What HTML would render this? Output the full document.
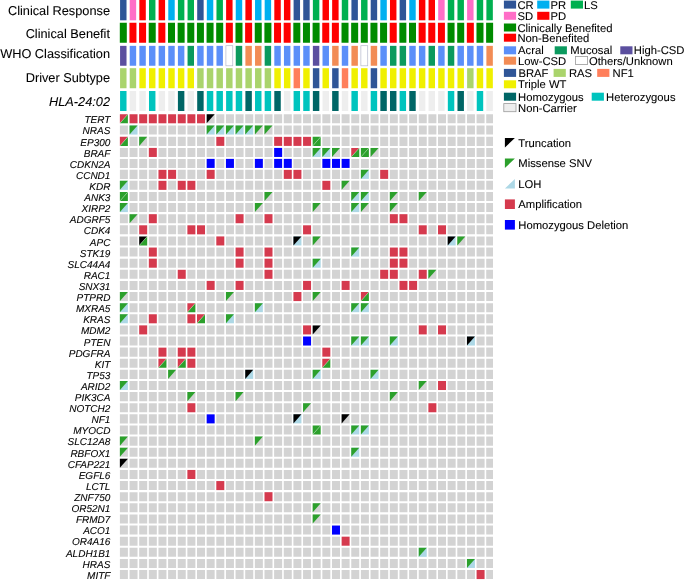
<!DOCTYPE html>
<html><head><meta charset="utf-8"><title>Oncoprint</title>
<style>
html,body{margin:0;padding:0;background:#fff;}
body{width:685px;height:580px;overflow:hidden;position:relative;font-family:"Liberation Sans",sans-serif;}
</style></head><body>
<svg width="685" height="580" viewBox="0 0 685 580" style="position:absolute;left:0;top:0;display:block;will-change:transform;text-rendering:geometricPrecision" font-family="'Liberation Sans', sans-serif" fill="#000">
<style>text{stroke:#000;stroke-width:0.08px;stroke-linejoin:round}</style>
<rect x="0" y="0" width="685" height="580" fill="#ffffff"/>
<rect x="120.07" y="0" width="6.45" height="20.3" fill="#2F5597"/>
<rect x="129.71" y="0" width="6.45" height="20.3" fill="#FF6EC7"/>
<rect x="139.35" y="0" width="6.45" height="20.3" fill="#FF0000"/>
<rect x="148.99" y="0" width="6.45" height="20.3" fill="#00B050"/>
<rect x="158.63" y="0" width="6.45" height="20.3" fill="#FF0000"/>
<rect x="168.27" y="0" width="6.45" height="20.3" fill="#00B0F0"/>
<rect x="177.91" y="0" width="6.45" height="20.3" fill="#00B050"/>
<rect x="187.55" y="0" width="6.45" height="20.3" fill="#00B050"/>
<rect x="197.19" y="0" width="6.45" height="20.3" fill="#2F5597"/>
<rect x="206.83" y="0" width="6.45" height="20.3" fill="#00B0F0"/>
<rect x="216.47" y="0" width="6.45" height="20.3" fill="#00B050"/>
<rect x="226.11" y="0" width="6.45" height="20.3" fill="#FF0000"/>
<rect x="235.75" y="0" width="6.45" height="20.3" fill="#00B0F0"/>
<rect x="245.39" y="0" width="6.45" height="20.3" fill="#FF0000"/>
<rect x="255.03" y="0" width="6.45" height="20.3" fill="#00B0F0"/>
<rect x="264.67" y="0" width="6.45" height="20.3" fill="#00B0F0"/>
<rect x="274.31" y="0" width="6.45" height="20.3" fill="#FF0000"/>
<rect x="283.95" y="0" width="6.45" height="20.3" fill="#FF0000"/>
<rect x="293.59" y="0" width="6.45" height="20.3" fill="#2F5597"/>
<rect x="303.23" y="0" width="6.45" height="20.3" fill="#2F5597"/>
<rect x="312.87" y="0" width="6.45" height="20.3" fill="#00B050"/>
<rect x="322.51" y="0" width="6.45" height="20.3" fill="#FF0000"/>
<rect x="332.15" y="0" width="6.45" height="20.3" fill="#FF0000"/>
<rect x="341.79" y="0" width="6.45" height="20.3" fill="#00B050"/>
<rect x="351.43" y="0" width="6.45" height="20.3" fill="#2F5597"/>
<rect x="361.07" y="0" width="6.45" height="20.3" fill="#00B050"/>
<rect x="370.71" y="0" width="6.45" height="20.3" fill="#2F5597"/>
<rect x="380.35" y="0" width="6.45" height="20.3" fill="#00B0F0"/>
<rect x="389.99" y="0" width="6.45" height="20.3" fill="#FF0000"/>
<rect x="399.63" y="0" width="6.45" height="20.3" fill="#2F5597"/>
<rect x="409.27" y="0" width="6.45" height="20.3" fill="#00B0F0"/>
<rect x="418.91" y="0" width="6.45" height="20.3" fill="#FF0000"/>
<rect x="428.55" y="0" width="6.45" height="20.3" fill="#FF0000"/>
<rect x="438.19" y="0" width="6.45" height="20.3" fill="#FF6EC7"/>
<rect x="447.83" y="0" width="6.45" height="20.3" fill="#00B050"/>
<rect x="457.47" y="0" width="6.45" height="20.3" fill="#00B050"/>
<rect x="467.11" y="0" width="6.45" height="20.3" fill="#FF6EC7"/>
<rect x="476.75" y="0" width="6.45" height="20.3" fill="#00B050"/>
<rect x="486.39" y="0" width="6.45" height="20.3" fill="#00B050"/>
<rect x="119.8" y="22.75" width="7" height="20" fill="#008B00"/>
<rect x="129.44" y="22.75" width="7" height="20" fill="#FF0000"/>
<rect x="139.08" y="22.75" width="7" height="20" fill="#FF0000"/>
<rect x="148.72" y="22.75" width="7" height="20" fill="#008B00"/>
<rect x="158.36" y="22.75" width="7" height="20" fill="#FF0000"/>
<rect x="168" y="22.75" width="7" height="20" fill="#008B00"/>
<rect x="177.64" y="22.75" width="7" height="20" fill="#008B00"/>
<rect x="187.28" y="22.75" width="7" height="20" fill="#008B00"/>
<rect x="196.92" y="22.75" width="7" height="20" fill="#008B00"/>
<rect x="206.56" y="22.75" width="7" height="20" fill="#008B00"/>
<rect x="216.2" y="22.75" width="7" height="20" fill="#008B00"/>
<rect x="225.84" y="22.75" width="7" height="20" fill="#FF0000"/>
<rect x="235.48" y="22.75" width="7" height="20" fill="#008B00"/>
<rect x="245.12" y="22.75" width="7" height="20" fill="#FF0000"/>
<rect x="254.76" y="22.75" width="7" height="20" fill="#008B00"/>
<rect x="264.4" y="22.75" width="7" height="20" fill="#008B00"/>
<rect x="274.04" y="22.75" width="7" height="20" fill="#FF0000"/>
<rect x="283.68" y="22.75" width="7" height="20" fill="#FF0000"/>
<rect x="293.32" y="22.75" width="7" height="20" fill="#008B00"/>
<rect x="302.96" y="22.75" width="7" height="20" fill="#008B00"/>
<rect x="312.6" y="22.75" width="7" height="20" fill="#008B00"/>
<rect x="322.24" y="22.75" width="7" height="20" fill="#FF0000"/>
<rect x="331.88" y="22.75" width="7" height="20" fill="#FF0000"/>
<rect x="341.52" y="22.75" width="7" height="20" fill="#008B00"/>
<rect x="351.16" y="22.75" width="7" height="20" fill="#008B00"/>
<rect x="360.8" y="22.75" width="7" height="20" fill="#008B00"/>
<rect x="370.44" y="22.75" width="7" height="20" fill="#008B00"/>
<rect x="380.08" y="22.75" width="7" height="20" fill="#008B00"/>
<rect x="389.72" y="22.75" width="7" height="20" fill="#FF0000"/>
<rect x="399.36" y="22.75" width="7" height="20" fill="#008B00"/>
<rect x="409" y="22.75" width="7" height="20" fill="#008B00"/>
<rect x="418.64" y="22.75" width="7" height="20" fill="#FF0000"/>
<rect x="428.28" y="22.75" width="7" height="20" fill="#FF0000"/>
<rect x="437.92" y="22.75" width="7" height="20" fill="#FF0000"/>
<rect x="447.56" y="22.75" width="7" height="20" fill="#008B00"/>
<rect x="457.2" y="22.75" width="7" height="20" fill="#008B00"/>
<rect x="466.84" y="22.75" width="7" height="20" fill="#FF0000"/>
<rect x="476.48" y="22.75" width="7" height="20" fill="#008B00"/>
<rect x="486.12" y="22.75" width="7" height="20" fill="#008B00"/>
<rect x="120.07" y="45.85" width="6.45" height="19.9" fill="#5B4F9F"/>
<rect x="129.71" y="45.85" width="6.45" height="19.9" fill="#5B8FF9"/>
<rect x="139.35" y="45.85" width="6.45" height="19.9" fill="#5B8FF9"/>
<rect x="148.99" y="45.85" width="6.45" height="19.9" fill="#5B8FF9"/>
<rect x="158.63" y="45.85" width="6.45" height="19.9" fill="#5B8FF9"/>
<rect x="168.27" y="45.85" width="6.45" height="19.9" fill="#5B8FF9"/>
<rect x="177.91" y="45.85" width="6.45" height="19.9" fill="#5B8FF9"/>
<rect x="187.55" y="45.85" width="6.45" height="19.9" fill="#0B9A5E"/>
<rect x="197.19" y="45.85" width="6.45" height="19.9" fill="#5B8FF9"/>
<rect x="206.83" y="45.85" width="6.45" height="19.9" fill="#5B8FF9"/>
<rect x="216.47" y="45.85" width="6.45" height="19.9" fill="#5B8FF9"/>
<rect x="225.91" y="45.7" width="6.85" height="20.1" fill="#fff" stroke="#b4b8cc" stroke-width="0.7"/>
<rect x="235.75" y="45.85" width="6.45" height="19.9" fill="#0B9A5E"/>
<rect x="245.39" y="45.85" width="6.45" height="19.9" fill="#F28C55"/>
<rect x="255.03" y="45.85" width="6.45" height="19.9" fill="#F28C55"/>
<rect x="264.67" y="45.85" width="6.45" height="19.9" fill="#0B9A5E"/>
<rect x="274.31" y="45.85" width="6.45" height="19.9" fill="#5B8FF9"/>
<rect x="283.95" y="45.85" width="6.45" height="19.9" fill="#5B8FF9"/>
<rect x="293.59" y="45.85" width="6.45" height="19.9" fill="#5B8FF9"/>
<rect x="303.23" y="45.85" width="6.45" height="19.9" fill="#5B8FF9"/>
<rect x="312.87" y="45.85" width="6.45" height="19.9" fill="#5B4F9F"/>
<rect x="322.51" y="45.85" width="6.45" height="19.9" fill="#5B8FF9"/>
<rect x="332.15" y="45.85" width="6.45" height="19.9" fill="#F28C55"/>
<rect x="341.79" y="45.85" width="6.45" height="19.9" fill="#5B8FF9"/>
<rect x="351.43" y="45.85" width="6.45" height="19.9" fill="#F28C55"/>
<rect x="360.87" y="45.7" width="6.85" height="20.1" fill="#fff" stroke="#b4b8cc" stroke-width="0.7"/>
<rect x="370.71" y="45.85" width="6.45" height="19.9" fill="#F28C55"/>
<rect x="380.35" y="45.85" width="6.45" height="19.9" fill="#5B8FF9"/>
<rect x="389.99" y="45.85" width="6.45" height="19.9" fill="#0B9A5E"/>
<rect x="399.63" y="45.85" width="6.45" height="19.9" fill="#0B9A5E"/>
<rect x="409.27" y="45.85" width="6.45" height="19.9" fill="#5B8FF9"/>
<rect x="418.91" y="45.85" width="6.45" height="19.9" fill="#5B8FF9"/>
<rect x="428.55" y="45.85" width="6.45" height="19.9" fill="#0B9A5E"/>
<rect x="438.19" y="45.85" width="6.45" height="19.9" fill="#5B8FF9"/>
<rect x="447.83" y="45.85" width="6.45" height="19.9" fill="#0B9A5E"/>
<rect x="457.47" y="45.85" width="6.45" height="19.9" fill="#5B8FF9"/>
<rect x="467.11" y="45.85" width="6.45" height="19.9" fill="#5B8FF9"/>
<rect x="476.75" y="45.85" width="6.45" height="19.9" fill="#5B8FF9"/>
<rect x="486.39" y="45.85" width="6.45" height="19.9" fill="#F28C55"/>
<rect x="120.07" y="68.2" width="6.45" height="20.05" fill="#AAD46C"/>
<rect x="129.71" y="68.2" width="6.45" height="20.05" fill="#AAD46C"/>
<rect x="139.35" y="68.2" width="6.45" height="20.05" fill="#F0F000"/>
<rect x="148.99" y="68.2" width="6.45" height="20.05" fill="#F0F000"/>
<rect x="158.63" y="68.2" width="6.45" height="20.05" fill="#F0F000"/>
<rect x="168.27" y="68.2" width="6.45" height="20.05" fill="#F0F000"/>
<rect x="177.91" y="68.2" width="6.45" height="20.05" fill="#F0F000"/>
<rect x="187.55" y="68.2" width="6.45" height="20.05" fill="#F0F000"/>
<rect x="197.19" y="68.2" width="6.45" height="20.05" fill="#AAD46C"/>
<rect x="206.83" y="68.2" width="6.45" height="20.05" fill="#AAD46C"/>
<rect x="216.47" y="68.2" width="6.45" height="20.05" fill="#AAD46C"/>
<rect x="226.11" y="68.2" width="6.45" height="20.05" fill="#AAD46C"/>
<rect x="235.75" y="68.2" width="6.45" height="20.05" fill="#AAD46C"/>
<rect x="245.39" y="68.2" width="6.45" height="20.05" fill="#AAD46C"/>
<rect x="255.03" y="68.2" width="6.45" height="20.05" fill="#AAD46C"/>
<rect x="264.67" y="68.2" width="6.45" height="20.05" fill="#AAD46C"/>
<rect x="274.31" y="68.2" width="6.45" height="20.05" fill="#F0F000"/>
<rect x="283.95" y="68.2" width="6.45" height="20.05" fill="#F0F000"/>
<rect x="293.59" y="68.2" width="6.45" height="20.05" fill="#FF7F5B"/>
<rect x="303.23" y="68.2" width="6.45" height="20.05" fill="#F0F000"/>
<rect x="312.87" y="68.2" width="6.45" height="20.05" fill="#2F5597"/>
<rect x="322.51" y="68.2" width="6.45" height="20.05" fill="#F0F000"/>
<rect x="332.15" y="68.2" width="6.45" height="20.05" fill="#2F5597"/>
<rect x="341.79" y="68.2" width="6.45" height="20.05" fill="#FF7F5B"/>
<rect x="351.43" y="68.2" width="6.45" height="20.05" fill="#F0F000"/>
<rect x="361.07" y="68.2" width="6.45" height="20.05" fill="#F0F000"/>
<rect x="370.71" y="68.2" width="6.45" height="20.05" fill="#2F5597"/>
<rect x="380.35" y="68.2" width="6.45" height="20.05" fill="#F0F000"/>
<rect x="389.99" y="68.2" width="6.45" height="20.05" fill="#F0F000"/>
<rect x="399.63" y="68.2" width="6.45" height="20.05" fill="#F0F000"/>
<rect x="409.27" y="68.2" width="6.45" height="20.05" fill="#F0F000"/>
<rect x="418.91" y="68.2" width="6.45" height="20.05" fill="#F0F000"/>
<rect x="428.55" y="68.2" width="6.45" height="20.05" fill="#F0F000"/>
<rect x="438.19" y="68.2" width="6.45" height="20.05" fill="#F0F000"/>
<rect x="447.83" y="68.2" width="6.45" height="20.05" fill="#F0F000"/>
<rect x="457.47" y="68.2" width="6.45" height="20.05" fill="#F0F000"/>
<rect x="467.11" y="68.2" width="6.45" height="20.05" fill="#AAD46C"/>
<rect x="476.75" y="68.2" width="6.45" height="20.05" fill="#F0F000"/>
<rect x="486.39" y="68.2" width="6.45" height="20.05" fill="#F0F000"/>
<rect x="120.07" y="91" width="6.45" height="20" fill="#00C4BE"/>
<rect x="129.71" y="91" width="6.45" height="20" fill="#EEEEEE"/>
<rect x="139.35" y="91" width="6.45" height="20" fill="#EEEEEE"/>
<rect x="148.99" y="91" width="6.45" height="20" fill="#00C4BE"/>
<rect x="158.63" y="91" width="6.45" height="20" fill="#EEEEEE"/>
<rect x="168.27" y="91" width="6.45" height="20" fill="#EEEEEE"/>
<rect x="177.91" y="91" width="6.45" height="20" fill="#006666"/>
<rect x="187.55" y="91" width="6.45" height="20" fill="#EEEEEE"/>
<rect x="197.19" y="91" width="6.45" height="20" fill="#006666"/>
<rect x="206.83" y="91" width="6.45" height="20" fill="#00C4BE"/>
<rect x="216.47" y="91" width="6.45" height="20" fill="#00C4BE"/>
<rect x="226.11" y="91" width="6.45" height="20" fill="#00C4BE"/>
<rect x="235.75" y="91" width="6.45" height="20" fill="#00C4BE"/>
<rect x="245.39" y="91" width="6.45" height="20" fill="#006666"/>
<rect x="255.03" y="91" width="6.45" height="20" fill="#00C4BE"/>
<rect x="264.67" y="91" width="6.45" height="20" fill="#00C4BE"/>
<rect x="274.31" y="91" width="6.45" height="20" fill="#006666"/>
<rect x="283.95" y="91" width="6.45" height="20" fill="#EEEEEE"/>
<rect x="293.59" y="91" width="6.45" height="20" fill="#00C4BE"/>
<rect x="303.23" y="91" width="6.45" height="20" fill="#00C4BE"/>
<rect x="312.87" y="91" width="6.45" height="20" fill="#006666"/>
<rect x="322.51" y="91" width="6.45" height="20" fill="#EEEEEE"/>
<rect x="332.15" y="91" width="6.45" height="20" fill="#006666"/>
<rect x="341.79" y="91" width="6.45" height="20" fill="#EEEEEE"/>
<rect x="351.43" y="91" width="6.45" height="20" fill="#00C4BE"/>
<rect x="361.07" y="91" width="6.45" height="20" fill="#EEEEEE"/>
<rect x="370.71" y="91" width="6.45" height="20" fill="#00C4BE"/>
<rect x="380.35" y="91" width="6.45" height="20" fill="#006666"/>
<rect x="389.99" y="91" width="6.45" height="20" fill="#006666"/>
<rect x="399.63" y="91" width="6.45" height="20" fill="#00C4BE"/>
<rect x="409.27" y="91" width="6.45" height="20" fill="#006666"/>
<rect x="418.91" y="91" width="6.45" height="20" fill="#EEEEEE"/>
<rect x="428.55" y="91" width="6.45" height="20" fill="#EEEEEE"/>
<rect x="438.19" y="91" width="6.45" height="20" fill="#EEEEEE"/>
<rect x="447.83" y="91" width="6.45" height="20" fill="#00C4BE"/>
<rect x="457.47" y="91" width="6.45" height="20" fill="#006666"/>
<rect x="467.11" y="91" width="6.45" height="20" fill="#EEEEEE"/>
<rect x="476.75" y="91" width="6.45" height="20" fill="#00C4BE"/>
<rect x="486.39" y="91" width="6.45" height="20" fill="#EEEEEE"/>
<rect x="119.9" y="114.25" width="8" height="9.05" fill="#f4f4f4"/>
<polygon points="119.9,114.25 127.9,114.25 119.9,123.3" fill="#D53A4E"/>
<polygon points="127.9,114.25 127.9,123.3 119.9,123.3" fill="#2CA02C"/>
<line x1="127.9" y1="114.25" x2="119.9" y2="123.3" stroke="#fff" stroke-opacity="0.55" stroke-width="0.5"/>
<rect x="129.54" y="114.25" width="8" height="9.05" fill="#D53A4E"/>
<rect x="139.18" y="114.25" width="8" height="9.05" fill="#D53A4E"/>
<rect x="148.82" y="114.25" width="8" height="9.05" fill="#D53A4E"/>
<rect x="158.46" y="114.25" width="8" height="9.05" fill="#D53A4E"/>
<rect x="168.1" y="114.25" width="8" height="9.05" fill="#D53A4E"/>
<rect x="177.74" y="114.25" width="8" height="9.05" fill="#D53A4E"/>
<rect x="187.38" y="114.25" width="8" height="9.05" fill="#D53A4E"/>
<rect x="197.02" y="114.25" width="8" height="9.05" fill="#D53A4E"/>
<rect x="206.66" y="114.25" width="8" height="9.05" fill="#D3D3D3"/>
<polygon points="206.66,114.25 214.66,114.25 206.66,123.3" fill="#000000"/>
<rect x="129.54" y="125.52" width="8" height="9.05" fill="#ADD8E6"/>
<polygon points="129.54,125.52 137.54,125.52 129.54,134.57" fill="#2CA02C"/>
<rect x="206.66" y="125.52" width="8" height="9.05" fill="#ADD8E6"/>
<polygon points="206.66,125.52 214.66,125.52 206.66,134.57" fill="#2CA02C"/>
<rect x="216.3" y="125.52" width="8" height="9.05" fill="#ADD8E6"/>
<polygon points="216.3,125.52 224.3,125.52 216.3,134.57" fill="#2CA02C"/>
<rect x="225.94" y="125.52" width="8" height="9.05" fill="#ADD8E6"/>
<polygon points="225.94,125.52 233.94,125.52 225.94,134.57" fill="#2CA02C"/>
<rect x="235.58" y="125.52" width="8" height="9.05" fill="#ADD8E6"/>
<polygon points="235.58,125.52 243.58,125.52 235.58,134.57" fill="#2CA02C"/>
<rect x="245.22" y="125.52" width="8" height="9.05" fill="#ADD8E6"/>
<polygon points="245.22,125.52 253.22,125.52 245.22,134.57" fill="#2CA02C"/>
<rect x="254.86" y="125.52" width="8" height="9.05" fill="#D3D3D3"/>
<polygon points="254.86,125.52 262.86,125.52 254.86,134.57" fill="#2CA02C"/>
<rect x="264.5" y="125.52" width="8" height="9.05" fill="#D3D3D3"/>
<polygon points="264.5,125.52 272.5,125.52 264.5,134.57" fill="#2CA02C"/>
<rect x="119.9" y="136.84" width="8" height="9.05" fill="#f4f4f4"/>
<polygon points="119.9,136.84 127.9,136.84 119.9,145.89" fill="#D53A4E"/>
<polygon points="127.9,136.84 127.9,145.89 119.9,145.89" fill="#2CA02C"/>
<line x1="127.9" y1="136.84" x2="119.9" y2="145.89" stroke="#fff" stroke-opacity="0.55" stroke-width="0.5"/>
<rect x="139.18" y="136.84" width="8" height="9.05" fill="#D3D3D3"/>
<polygon points="139.18,136.84 147.18,136.84 139.18,145.89" fill="#2CA02C"/>
<rect x="216.3" y="136.84" width="8" height="9.05" fill="#D53A4E"/>
<rect x="274.14" y="136.84" width="8" height="9.05" fill="#D53A4E"/>
<rect x="283.78" y="136.84" width="8" height="9.05" fill="#D53A4E"/>
<rect x="293.42" y="136.84" width="8" height="9.05" fill="#D53A4E"/>
<rect x="303.06" y="136.84" width="8" height="9.05" fill="#D53A4E"/>
<rect x="312.7" y="136.84" width="8" height="9.05" fill="#f4f4f4"/>
<polygon points="312.7,136.84 320.7,136.84 312.7,145.89" fill="#2CA02C"/>
<polygon points="320.7,136.84 320.7,145.89 312.7,145.89" fill="#2CA02C"/>
<line x1="320.7" y1="136.84" x2="312.7" y2="145.89" stroke="#fff" stroke-opacity="0.55" stroke-width="0.5"/>
<rect x="148.82" y="147.91" width="8" height="9.05" fill="#D53A4E"/>
<rect x="274.14" y="147.91" width="8" height="9.05" fill="#0000FF"/>
<rect x="312.7" y="147.91" width="8" height="9.05" fill="#ADD8E6"/>
<polygon points="312.7,147.91 320.7,147.91 312.7,156.96" fill="#2CA02C"/>
<rect x="322.34" y="147.91" width="8" height="9.05" fill="#ADD8E6"/>
<polygon points="322.34,147.91 330.34,147.91 322.34,156.96" fill="#2CA02C"/>
<rect x="331.98" y="147.91" width="8" height="9.05" fill="#D3D3D3"/>
<polygon points="331.98,147.91 339.98,147.91 331.98,156.96" fill="#2CA02C"/>
<rect x="351.26" y="147.91" width="8" height="9.05" fill="#f4f4f4"/>
<polygon points="351.26,147.91 359.26,147.91 351.26,156.96" fill="#D53A4E"/>
<polygon points="359.26,147.91 359.26,156.96 351.26,156.96" fill="#2CA02C"/>
<line x1="359.26" y1="147.91" x2="351.26" y2="156.96" stroke="#fff" stroke-opacity="0.55" stroke-width="0.5"/>
<rect x="360.9" y="147.91" width="8" height="9.05" fill="#f4f4f4"/>
<polygon points="360.9,147.91 368.9,147.91 360.9,156.96" fill="#2CA02C"/>
<polygon points="368.9,147.91 368.9,156.96 360.9,156.96" fill="#2CA02C"/>
<line x1="368.9" y1="147.91" x2="360.9" y2="156.96" stroke="#fff" stroke-opacity="0.55" stroke-width="0.5"/>
<rect x="370.54" y="147.91" width="8" height="9.05" fill="#D3D3D3"/>
<polygon points="370.54,147.91 378.54,147.91 370.54,156.96" fill="#2CA02C"/>
<rect x="206.66" y="158.88" width="8" height="9.05" fill="#0000FF"/>
<rect x="225.94" y="158.88" width="8" height="9.05" fill="#0000FF"/>
<rect x="254.86" y="158.88" width="8" height="9.05" fill="#0000FF"/>
<rect x="274.14" y="158.88" width="8" height="9.05" fill="#0000FF"/>
<rect x="283.78" y="158.88" width="8" height="9.05" fill="#0000FF"/>
<rect x="322.34" y="158.88" width="8" height="9.05" fill="#0000FF"/>
<rect x="331.98" y="158.88" width="8" height="9.05" fill="#0000FF"/>
<rect x="341.62" y="158.88" width="8" height="9.05" fill="#0000FF"/>
<rect x="158.46" y="169.85" width="8" height="9.05" fill="#D53A4E"/>
<rect x="168.1" y="169.85" width="8" height="9.05" fill="#D53A4E"/>
<rect x="206.66" y="169.85" width="8" height="9.05" fill="#D53A4E"/>
<rect x="283.78" y="169.85" width="8" height="9.05" fill="#D53A4E"/>
<rect x="293.42" y="169.85" width="8" height="9.05" fill="#D53A4E"/>
<rect x="360.9" y="169.85" width="8" height="9.05" fill="#ADD8E6"/>
<polygon points="360.9,169.85 368.9,169.85 360.9,178.9" fill="#2CA02C"/>
<rect x="380.18" y="169.85" width="8" height="9.05" fill="#D53A4E"/>
<rect x="119.9" y="180.82" width="8" height="9.05" fill="#ADD8E6"/>
<polygon points="119.9,180.82 127.9,180.82 119.9,189.87" fill="#2CA02C"/>
<rect x="158.46" y="180.82" width="8" height="9.05" fill="#D53A4E"/>
<rect x="177.74" y="180.82" width="8" height="9.05" fill="#D53A4E"/>
<rect x="187.38" y="180.82" width="8" height="9.05" fill="#D53A4E"/>
<rect x="322.34" y="180.82" width="8" height="9.05" fill="#D53A4E"/>
<rect x="341.62" y="180.82" width="8" height="9.05" fill="#D3D3D3"/>
<polygon points="341.62,180.82 349.62,180.82 341.62,189.87" fill="#2CA02C"/>
<rect x="119.9" y="191.94" width="8" height="9.05" fill="#f4f4f4"/>
<polygon points="119.9,191.94 127.9,191.94 119.9,200.99" fill="#2CA02C"/>
<polygon points="127.9,191.94 127.9,200.99 119.9,200.99" fill="#2CA02C"/>
<line x1="127.9" y1="191.94" x2="119.9" y2="200.99" stroke="#fff" stroke-opacity="0.55" stroke-width="0.5"/>
<rect x="264.5" y="191.94" width="8" height="9.05" fill="#D3D3D3"/>
<polygon points="264.5,191.94 272.5,191.94 264.5,200.99" fill="#2CA02C"/>
<rect x="351.26" y="191.94" width="8" height="9.05" fill="#ADD8E6"/>
<polygon points="351.26,191.94 359.26,191.94 351.26,200.99" fill="#2CA02C"/>
<rect x="360.9" y="191.94" width="8" height="9.05" fill="#ADD8E6"/>
<polygon points="360.9,191.94 368.9,191.94 360.9,200.99" fill="#2CA02C"/>
<rect x="389.82" y="191.94" width="8" height="9.05" fill="#D3D3D3"/>
<polygon points="389.82,191.94 397.82,191.94 389.82,200.99" fill="#2CA02C"/>
<rect x="418.74" y="191.94" width="8" height="9.05" fill="#D3D3D3"/>
<polygon points="418.74,191.94 426.74,191.94 418.74,200.99" fill="#2CA02C"/>
<rect x="119.9" y="203.06" width="8" height="9.05" fill="#ADD8E6"/>
<polygon points="119.9,203.06 127.9,203.06 119.9,212.11" fill="#2CA02C"/>
<rect x="254.86" y="203.06" width="8" height="9.05" fill="#D3D3D3"/>
<polygon points="254.86,203.06 262.86,203.06 254.86,212.11" fill="#2CA02C"/>
<rect x="312.7" y="203.06" width="8" height="9.05" fill="#D3D3D3"/>
<polygon points="312.7,203.06 320.7,203.06 312.7,212.11" fill="#2CA02C"/>
<rect x="351.26" y="203.06" width="8" height="9.05" fill="#ADD8E6"/>
<polygon points="351.26,203.06 359.26,203.06 351.26,212.11" fill="#2CA02C"/>
<rect x="360.9" y="203.06" width="8" height="9.05" fill="#D3D3D3"/>
<polygon points="360.9,203.06 368.9,203.06 360.9,212.11" fill="#2CA02C"/>
<rect x="389.82" y="203.06" width="8" height="9.05" fill="#D3D3D3"/>
<polygon points="389.82,203.06 397.82,203.06 389.82,212.11" fill="#2CA02C"/>
<rect x="129.54" y="214.18" width="8" height="9.05" fill="#D3D3D3"/>
<polygon points="129.54,214.18 137.54,214.18 129.54,223.23" fill="#2CA02C"/>
<rect x="148.82" y="214.18" width="8" height="9.05" fill="#D53A4E"/>
<rect x="235.58" y="214.18" width="8" height="9.05" fill="#D53A4E"/>
<rect x="264.5" y="214.18" width="8" height="9.05" fill="#D53A4E"/>
<rect x="389.82" y="214.18" width="8" height="9.05" fill="#D53A4E"/>
<rect x="399.46" y="214.18" width="8" height="9.05" fill="#D53A4E"/>
<rect x="139.18" y="225.3" width="8" height="9.05" fill="#D53A4E"/>
<rect x="187.38" y="225.3" width="8" height="9.05" fill="#D53A4E"/>
<rect x="197.02" y="225.3" width="8" height="9.05" fill="#D53A4E"/>
<rect x="303.06" y="225.3" width="8" height="9.05" fill="#D53A4E"/>
<rect x="418.74" y="225.3" width="8" height="9.05" fill="#D53A4E"/>
<rect x="438.02" y="225.3" width="8" height="9.05" fill="#D53A4E"/>
<rect x="139.18" y="236.42" width="8" height="9.05" fill="#f4f4f4"/>
<polygon points="139.18,236.42 147.18,236.42 139.18,245.47" fill="#000000"/>
<polygon points="147.18,236.42 147.18,245.47 139.18,245.47" fill="#2CA02C"/>
<line x1="147.18" y1="236.42" x2="139.18" y2="245.47" stroke="#fff" stroke-opacity="0.55" stroke-width="0.5"/>
<rect x="216.3" y="236.42" width="8" height="9.05" fill="#D53A4E"/>
<rect x="293.42" y="236.42" width="8" height="9.05" fill="#ADD8E6"/>
<polygon points="293.42,236.42 301.42,236.42 293.42,245.47" fill="#000000"/>
<rect x="312.7" y="236.42" width="8" height="9.05" fill="#D3D3D3"/>
<polygon points="312.7,236.42 320.7,236.42 312.7,245.47" fill="#2CA02C"/>
<rect x="447.66" y="236.42" width="8" height="9.05" fill="#ADD8E6"/>
<polygon points="447.66,236.42 455.66,236.42 447.66,245.47" fill="#000000"/>
<rect x="457.3" y="236.42" width="8" height="9.05" fill="#D3D3D3"/>
<polygon points="457.3,236.42 465.3,236.42 457.3,245.47" fill="#2CA02C"/>
<rect x="148.82" y="247.54" width="8" height="9.05" fill="#D53A4E"/>
<rect x="235.58" y="247.54" width="8" height="9.05" fill="#D53A4E"/>
<rect x="264.5" y="247.54" width="8" height="9.05" fill="#D53A4E"/>
<rect x="351.26" y="247.54" width="8" height="9.05" fill="#ADD8E6"/>
<polygon points="351.26,247.54 359.26,247.54 351.26,256.59" fill="#2CA02C"/>
<rect x="389.82" y="247.54" width="8" height="9.05" fill="#D53A4E"/>
<rect x="399.46" y="247.54" width="8" height="9.05" fill="#D53A4E"/>
<rect x="148.82" y="258.66" width="8" height="9.05" fill="#D53A4E"/>
<rect x="235.58" y="258.66" width="8" height="9.05" fill="#D53A4E"/>
<rect x="264.5" y="258.66" width="8" height="9.05" fill="#D53A4E"/>
<rect x="312.7" y="258.66" width="8" height="9.05" fill="#ADD8E6"/>
<polygon points="312.7,258.66 320.7,258.66 312.7,267.71" fill="#2CA02C"/>
<rect x="389.82" y="258.66" width="8" height="9.05" fill="#D53A4E"/>
<rect x="399.46" y="258.66" width="8" height="9.05" fill="#D53A4E"/>
<rect x="177.74" y="269.78" width="8" height="9.05" fill="#D53A4E"/>
<rect x="264.5" y="269.78" width="8" height="9.05" fill="#D53A4E"/>
<rect x="380.18" y="269.78" width="8" height="9.05" fill="#D53A4E"/>
<rect x="389.82" y="269.78" width="8" height="9.05" fill="#D53A4E"/>
<rect x="418.74" y="269.78" width="8" height="9.05" fill="#D53A4E"/>
<rect x="428.38" y="269.78" width="8" height="9.05" fill="#D3D3D3"/>
<polygon points="428.38,269.78 436.38,269.78 428.38,278.83" fill="#2CA02C"/>
<rect x="206.66" y="280.9" width="8" height="9.05" fill="#D53A4E"/>
<rect x="235.58" y="280.9" width="8" height="9.05" fill="#D53A4E"/>
<rect x="303.06" y="280.9" width="8" height="9.05" fill="#D53A4E"/>
<rect x="341.62" y="280.9" width="8" height="9.05" fill="#D53A4E"/>
<rect x="399.46" y="280.9" width="8" height="9.05" fill="#D53A4E"/>
<rect x="409.1" y="280.9" width="8" height="9.05" fill="#D53A4E"/>
<rect x="119.9" y="292.02" width="8" height="9.05" fill="#D3D3D3"/>
<polygon points="119.9,292.02 127.9,292.02 119.9,301.07" fill="#2CA02C"/>
<rect x="225.94" y="292.02" width="8" height="9.05" fill="#D3D3D3"/>
<polygon points="225.94,292.02 233.94,292.02 225.94,301.07" fill="#2CA02C"/>
<rect x="293.42" y="292.02" width="8" height="9.05" fill="#D53A4E"/>
<rect x="312.7" y="292.02" width="8" height="9.05" fill="#D3D3D3"/>
<polygon points="312.7,292.02 320.7,292.02 312.7,301.07" fill="#2CA02C"/>
<rect x="360.9" y="292.02" width="8" height="9.05" fill="#f4f4f4"/>
<polygon points="360.9,292.02 368.9,292.02 360.9,301.07" fill="#D53A4E"/>
<polygon points="368.9,292.02 368.9,301.07 360.9,301.07" fill="#2CA02C"/>
<line x1="368.9" y1="292.02" x2="360.9" y2="301.07" stroke="#fff" stroke-opacity="0.55" stroke-width="0.5"/>
<rect x="119.9" y="303.14" width="8" height="9.05" fill="#ADD8E6"/>
<polygon points="119.9,303.14 127.9,303.14 119.9,312.19" fill="#2CA02C"/>
<rect x="187.38" y="303.14" width="8" height="9.05" fill="#f4f4f4"/>
<polygon points="187.38,303.14 195.38,303.14 187.38,312.19" fill="#D53A4E"/>
<polygon points="195.38,303.14 195.38,312.19 187.38,312.19" fill="#2CA02C"/>
<line x1="195.38" y1="303.14" x2="187.38" y2="312.19" stroke="#fff" stroke-opacity="0.55" stroke-width="0.5"/>
<rect x="254.86" y="303.14" width="8" height="9.05" fill="#ADD8E6"/>
<polygon points="254.86,303.14 262.86,303.14 254.86,312.19" fill="#2CA02C"/>
<rect x="351.26" y="303.14" width="8" height="9.05" fill="#ADD8E6"/>
<polygon points="351.26,303.14 359.26,303.14 351.26,312.19" fill="#2CA02C"/>
<rect x="360.9" y="303.14" width="8" height="9.05" fill="#ADD8E6"/>
<polygon points="360.9,303.14 368.9,303.14 360.9,312.19" fill="#2CA02C"/>
<rect x="119.9" y="314.26" width="8" height="9.05" fill="#ADD8E6"/>
<polygon points="119.9,314.26 127.9,314.26 119.9,323.31" fill="#2CA02C"/>
<rect x="148.82" y="314.26" width="8" height="9.05" fill="#D53A4E"/>
<rect x="187.38" y="314.26" width="8" height="9.05" fill="#D53A4E"/>
<rect x="197.02" y="314.26" width="8" height="9.05" fill="#f4f4f4"/>
<polygon points="197.02,314.26 205.02,314.26 197.02,323.31" fill="#D53A4E"/>
<polygon points="205.02,314.26 205.02,323.31 197.02,323.31" fill="#2CA02C"/>
<line x1="205.02" y1="314.26" x2="197.02" y2="323.31" stroke="#fff" stroke-opacity="0.55" stroke-width="0.5"/>
<rect x="225.94" y="314.26" width="8" height="9.05" fill="#ADD8E6"/>
<polygon points="225.94,314.26 233.94,314.26 225.94,323.31" fill="#2CA02C"/>
<rect x="139.18" y="325.38" width="8" height="9.05" fill="#D53A4E"/>
<rect x="303.06" y="325.38" width="8" height="9.05" fill="#D53A4E"/>
<rect x="312.7" y="325.38" width="8" height="9.05" fill="#D3D3D3"/>
<polygon points="312.7,325.38 320.7,325.38 312.7,334.43" fill="#000000"/>
<rect x="418.74" y="325.38" width="8" height="9.05" fill="#D53A4E"/>
<rect x="438.02" y="325.38" width="8" height="9.05" fill="#D53A4E"/>
<rect x="303.06" y="336.5" width="8" height="9.05" fill="#0000FF"/>
<rect x="351.26" y="336.5" width="8" height="9.05" fill="#ADD8E6"/>
<polygon points="351.26,336.5 359.26,336.5 351.26,345.55" fill="#2CA02C"/>
<rect x="360.9" y="336.5" width="8" height="9.05" fill="#ADD8E6"/>
<polygon points="360.9,336.5 368.9,336.5 360.9,345.55" fill="#2CA02C"/>
<rect x="389.82" y="336.5" width="8" height="9.05" fill="#ADD8E6"/>
<polygon points="389.82,336.5 397.82,336.5 389.82,345.55" fill="#2CA02C"/>
<rect x="466.94" y="336.5" width="8" height="9.05" fill="#ADD8E6"/>
<polygon points="466.94,336.5 474.94,336.5 466.94,345.55" fill="#000000"/>
<rect x="158.46" y="347.62" width="8" height="9.05" fill="#D53A4E"/>
<rect x="177.74" y="347.62" width="8" height="9.05" fill="#D53A4E"/>
<rect x="187.38" y="347.62" width="8" height="9.05" fill="#D53A4E"/>
<rect x="322.34" y="347.62" width="8" height="9.05" fill="#D53A4E"/>
<rect x="158.46" y="358.74" width="8" height="9.05" fill="#f4f4f4"/>
<polygon points="158.46,358.74 166.46,358.74 158.46,367.79" fill="#D53A4E"/>
<polygon points="166.46,358.74 166.46,367.79 158.46,367.79" fill="#2CA02C"/>
<line x1="166.46" y1="358.74" x2="158.46" y2="367.79" stroke="#fff" stroke-opacity="0.55" stroke-width="0.5"/>
<rect x="177.74" y="358.74" width="8" height="9.05" fill="#f4f4f4"/>
<polygon points="177.74,358.74 185.74,358.74 177.74,367.79" fill="#D53A4E"/>
<polygon points="185.74,358.74 185.74,367.79 177.74,367.79" fill="#2CA02C"/>
<line x1="185.74" y1="358.74" x2="177.74" y2="367.79" stroke="#fff" stroke-opacity="0.55" stroke-width="0.5"/>
<rect x="187.38" y="358.74" width="8" height="9.05" fill="#D53A4E"/>
<rect x="322.34" y="358.74" width="8" height="9.05" fill="#f4f4f4"/>
<polygon points="322.34,358.74 330.34,358.74 322.34,367.79" fill="#D53A4E"/>
<polygon points="330.34,358.74 330.34,367.79 322.34,367.79" fill="#2CA02C"/>
<line x1="330.34" y1="358.74" x2="322.34" y2="367.79" stroke="#fff" stroke-opacity="0.55" stroke-width="0.5"/>
<rect x="168.1" y="369.86" width="8" height="9.05" fill="#D3D3D3"/>
<polygon points="168.1,369.86 176.1,369.86 168.1,378.91" fill="#2CA02C"/>
<rect x="245.22" y="369.86" width="8" height="9.05" fill="#ADD8E6"/>
<polygon points="245.22,369.86 253.22,369.86 245.22,378.91" fill="#000000"/>
<rect x="312.7" y="369.86" width="8" height="9.05" fill="#ADD8E6"/>
<polygon points="312.7,369.86 320.7,369.86 312.7,378.91" fill="#2CA02C"/>
<rect x="370.54" y="369.86" width="8" height="9.05" fill="#ADD8E6"/>
<polygon points="370.54,369.86 378.54,369.86 370.54,378.91" fill="#2CA02C"/>
<rect x="119.9" y="380.98" width="8" height="9.05" fill="#ADD8E6"/>
<polygon points="119.9,380.98 127.9,380.98 119.9,390.03" fill="#2CA02C"/>
<rect x="418.74" y="380.98" width="8" height="9.05" fill="#D3D3D3"/>
<polygon points="418.74,380.98 426.74,380.98 418.74,390.03" fill="#2CA02C"/>
<rect x="438.02" y="380.98" width="8" height="9.05" fill="#D53A4E"/>
<rect x="187.38" y="392.1" width="8" height="9.05" fill="#D3D3D3"/>
<polygon points="187.38,392.1 195.38,392.1 187.38,401.15" fill="#2CA02C"/>
<rect x="235.58" y="392.1" width="8" height="9.05" fill="#D3D3D3"/>
<polygon points="235.58,392.1 243.58,392.1 235.58,401.15" fill="#2CA02C"/>
<rect x="389.82" y="392.1" width="8" height="9.05" fill="#D3D3D3"/>
<polygon points="389.82,392.1 397.82,392.1 389.82,401.15" fill="#2CA02C"/>
<rect x="187.38" y="403.22" width="8" height="9.05" fill="#D53A4E"/>
<rect x="303.06" y="403.22" width="8" height="9.05" fill="#D3D3D3"/>
<polygon points="303.06,403.22 311.06,403.22 303.06,412.27" fill="#2CA02C"/>
<rect x="428.38" y="403.22" width="8" height="9.05" fill="#D53A4E"/>
<rect x="206.66" y="414.34" width="8" height="9.05" fill="#0000FF"/>
<rect x="293.42" y="414.34" width="8" height="9.05" fill="#ADD8E6"/>
<polygon points="293.42,414.34 301.42,414.34 293.42,423.39" fill="#000000"/>
<rect x="341.62" y="414.34" width="8" height="9.05" fill="#D3D3D3"/>
<polygon points="341.62,414.34 349.62,414.34 341.62,423.39" fill="#000000"/>
<rect x="312.7" y="425.46" width="8" height="9.05" fill="#f4f4f4"/>
<polygon points="312.7,425.46 320.7,425.46 312.7,434.51" fill="#2CA02C"/>
<polygon points="320.7,425.46 320.7,434.51 312.7,434.51" fill="#2CA02C"/>
<line x1="320.7" y1="425.46" x2="312.7" y2="434.51" stroke="#fff" stroke-opacity="0.55" stroke-width="0.5"/>
<rect x="351.26" y="425.46" width="8" height="9.05" fill="#ADD8E6"/>
<polygon points="351.26,425.46 359.26,425.46 351.26,434.51" fill="#2CA02C"/>
<rect x="360.9" y="425.46" width="8" height="9.05" fill="#ADD8E6"/>
<polygon points="360.9,425.46 368.9,425.46 360.9,434.51" fill="#2CA02C"/>
<rect x="119.9" y="436.58" width="8" height="9.05" fill="#D3D3D3"/>
<polygon points="119.9,436.58 127.9,436.58 119.9,445.63" fill="#2CA02C"/>
<rect x="254.86" y="436.58" width="8" height="9.05" fill="#D3D3D3"/>
<polygon points="254.86,436.58 262.86,436.58 254.86,445.63" fill="#2CA02C"/>
<rect x="119.9" y="447.7" width="8" height="9.05" fill="#D3D3D3"/>
<polygon points="119.9,447.7 127.9,447.7 119.9,456.75" fill="#2CA02C"/>
<rect x="351.26" y="447.7" width="8" height="9.05" fill="#ADD8E6"/>
<polygon points="351.26,447.7 359.26,447.7 351.26,456.75" fill="#2CA02C"/>
<rect x="119.9" y="458.82" width="8" height="9.05" fill="#D3D3D3"/>
<polygon points="119.9,458.82 127.9,458.82 119.9,467.87" fill="#000000"/>
<rect x="187.38" y="469.94" width="8" height="9.05" fill="#D53A4E"/>
<rect x="216.3" y="481.06" width="8" height="9.05" fill="#D53A4E"/>
<rect x="264.5" y="492.18" width="8" height="9.05" fill="#D53A4E"/>
<rect x="312.7" y="503.3" width="8" height="9.05" fill="#D3D3D3"/>
<polygon points="312.7,503.3 320.7,503.3 312.7,512.35" fill="#2CA02C"/>
<rect x="312.7" y="514.42" width="8" height="9.05" fill="#D3D3D3"/>
<polygon points="312.7,514.42 320.7,514.42 312.7,523.47" fill="#2CA02C"/>
<rect x="331.98" y="525.54" width="8" height="9.05" fill="#0000FF"/>
<rect x="341.62" y="536.66" width="8" height="9.05" fill="#D53A4E"/>
<rect x="418.74" y="547.78" width="8" height="9.05" fill="#ADD8E6"/>
<polygon points="418.74,547.78 426.74,547.78 418.74,556.83" fill="#2CA02C"/>
<rect x="466.94" y="558.9" width="8" height="9.05" fill="#ADD8E6"/>
<polygon points="466.94,558.9 474.94,558.9 466.94,567.95" fill="#2CA02C"/>
<rect x="476.58" y="570.02" width="8" height="9.05" fill="#D53A4E"/>
<path d="M216.3 114.25h8v9.05h-8zM225.94 114.25h8v9.05h-8zM235.58 114.25h8v9.05h-8zM245.22 114.25h8v9.05h-8zM254.86 114.25h8v9.05h-8zM264.5 114.25h8v9.05h-8zM274.14 114.25h8v9.05h-8zM283.78 114.25h8v9.05h-8zM293.42 114.25h8v9.05h-8zM303.06 114.25h8v9.05h-8zM312.7 114.25h8v9.05h-8zM322.34 114.25h8v9.05h-8zM331.98 114.25h8v9.05h-8zM341.62 114.25h8v9.05h-8zM351.26 114.25h8v9.05h-8zM360.9 114.25h8v9.05h-8zM370.54 114.25h8v9.05h-8zM380.18 114.25h8v9.05h-8zM389.82 114.25h8v9.05h-8zM399.46 114.25h8v9.05h-8zM409.1 114.25h8v9.05h-8zM418.74 114.25h8v9.05h-8zM428.38 114.25h8v9.05h-8zM438.02 114.25h8v9.05h-8zM447.66 114.25h8v9.05h-8zM457.3 114.25h8v9.05h-8zM466.94 114.25h8v9.05h-8zM476.58 114.25h8v9.05h-8zM486.22 114.25h6.78v9.05h-6.78zM119.9 125.52h8v9.05h-8zM139.18 125.52h8v9.05h-8zM148.82 125.52h8v9.05h-8zM158.46 125.52h8v9.05h-8zM168.1 125.52h8v9.05h-8zM177.74 125.52h8v9.05h-8zM187.38 125.52h8v9.05h-8zM197.02 125.52h8v9.05h-8zM274.14 125.52h8v9.05h-8zM283.78 125.52h8v9.05h-8zM293.42 125.52h8v9.05h-8zM303.06 125.52h8v9.05h-8zM312.7 125.52h8v9.05h-8zM322.34 125.52h8v9.05h-8zM331.98 125.52h8v9.05h-8zM341.62 125.52h8v9.05h-8zM351.26 125.52h8v9.05h-8zM360.9 125.52h8v9.05h-8zM370.54 125.52h8v9.05h-8zM380.18 125.52h8v9.05h-8zM389.82 125.52h8v9.05h-8zM399.46 125.52h8v9.05h-8zM409.1 125.52h8v9.05h-8zM418.74 125.52h8v9.05h-8zM428.38 125.52h8v9.05h-8zM438.02 125.52h8v9.05h-8zM447.66 125.52h8v9.05h-8zM457.3 125.52h8v9.05h-8zM466.94 125.52h8v9.05h-8zM476.58 125.52h8v9.05h-8zM486.22 125.52h6.78v9.05h-6.78zM129.54 136.84h8v9.05h-8zM148.82 136.84h8v9.05h-8zM158.46 136.84h8v9.05h-8zM168.1 136.84h8v9.05h-8zM177.74 136.84h8v9.05h-8zM187.38 136.84h8v9.05h-8zM197.02 136.84h8v9.05h-8zM206.66 136.84h8v9.05h-8zM225.94 136.84h8v9.05h-8zM235.58 136.84h8v9.05h-8zM245.22 136.84h8v9.05h-8zM254.86 136.84h8v9.05h-8zM264.5 136.84h8v9.05h-8zM322.34 136.84h8v9.05h-8zM331.98 136.84h8v9.05h-8zM341.62 136.84h8v9.05h-8zM351.26 136.84h8v9.05h-8zM360.9 136.84h8v9.05h-8zM370.54 136.84h8v9.05h-8zM380.18 136.84h8v9.05h-8zM389.82 136.84h8v9.05h-8zM399.46 136.84h8v9.05h-8zM409.1 136.84h8v9.05h-8zM418.74 136.84h8v9.05h-8zM428.38 136.84h8v9.05h-8zM438.02 136.84h8v9.05h-8zM447.66 136.84h8v9.05h-8zM457.3 136.84h8v9.05h-8zM466.94 136.84h8v9.05h-8zM476.58 136.84h8v9.05h-8zM486.22 136.84h6.78v9.05h-6.78zM119.9 147.91h8v9.05h-8zM129.54 147.91h8v9.05h-8zM139.18 147.91h8v9.05h-8zM158.46 147.91h8v9.05h-8zM168.1 147.91h8v9.05h-8zM177.74 147.91h8v9.05h-8zM187.38 147.91h8v9.05h-8zM197.02 147.91h8v9.05h-8zM206.66 147.91h8v9.05h-8zM216.3 147.91h8v9.05h-8zM225.94 147.91h8v9.05h-8zM235.58 147.91h8v9.05h-8zM245.22 147.91h8v9.05h-8zM254.86 147.91h8v9.05h-8zM264.5 147.91h8v9.05h-8zM283.78 147.91h8v9.05h-8zM293.42 147.91h8v9.05h-8zM303.06 147.91h8v9.05h-8zM341.62 147.91h8v9.05h-8zM380.18 147.91h8v9.05h-8zM389.82 147.91h8v9.05h-8zM399.46 147.91h8v9.05h-8zM409.1 147.91h8v9.05h-8zM418.74 147.91h8v9.05h-8zM428.38 147.91h8v9.05h-8zM438.02 147.91h8v9.05h-8zM447.66 147.91h8v9.05h-8zM457.3 147.91h8v9.05h-8zM466.94 147.91h8v9.05h-8zM476.58 147.91h8v9.05h-8zM486.22 147.91h6.78v9.05h-6.78zM119.9 158.88h8v9.05h-8zM129.54 158.88h8v9.05h-8zM139.18 158.88h8v9.05h-8zM148.82 158.88h8v9.05h-8zM158.46 158.88h8v9.05h-8zM168.1 158.88h8v9.05h-8zM177.74 158.88h8v9.05h-8zM187.38 158.88h8v9.05h-8zM197.02 158.88h8v9.05h-8zM216.3 158.88h8v9.05h-8zM235.58 158.88h8v9.05h-8zM245.22 158.88h8v9.05h-8zM264.5 158.88h8v9.05h-8zM293.42 158.88h8v9.05h-8zM303.06 158.88h8v9.05h-8zM312.7 158.88h8v9.05h-8zM351.26 158.88h8v9.05h-8zM360.9 158.88h8v9.05h-8zM370.54 158.88h8v9.05h-8zM380.18 158.88h8v9.05h-8zM389.82 158.88h8v9.05h-8zM399.46 158.88h8v9.05h-8zM409.1 158.88h8v9.05h-8zM418.74 158.88h8v9.05h-8zM428.38 158.88h8v9.05h-8zM438.02 158.88h8v9.05h-8zM447.66 158.88h8v9.05h-8zM457.3 158.88h8v9.05h-8zM466.94 158.88h8v9.05h-8zM476.58 158.88h8v9.05h-8zM486.22 158.88h6.78v9.05h-6.78zM119.9 169.85h8v9.05h-8zM129.54 169.85h8v9.05h-8zM139.18 169.85h8v9.05h-8zM148.82 169.85h8v9.05h-8zM177.74 169.85h8v9.05h-8zM187.38 169.85h8v9.05h-8zM197.02 169.85h8v9.05h-8zM216.3 169.85h8v9.05h-8zM225.94 169.85h8v9.05h-8zM235.58 169.85h8v9.05h-8zM245.22 169.85h8v9.05h-8zM254.86 169.85h8v9.05h-8zM264.5 169.85h8v9.05h-8zM274.14 169.85h8v9.05h-8zM303.06 169.85h8v9.05h-8zM312.7 169.85h8v9.05h-8zM322.34 169.85h8v9.05h-8zM331.98 169.85h8v9.05h-8zM341.62 169.85h8v9.05h-8zM351.26 169.85h8v9.05h-8zM370.54 169.85h8v9.05h-8zM389.82 169.85h8v9.05h-8zM399.46 169.85h8v9.05h-8zM409.1 169.85h8v9.05h-8zM418.74 169.85h8v9.05h-8zM428.38 169.85h8v9.05h-8zM438.02 169.85h8v9.05h-8zM447.66 169.85h8v9.05h-8zM457.3 169.85h8v9.05h-8zM466.94 169.85h8v9.05h-8zM476.58 169.85h8v9.05h-8zM486.22 169.85h6.78v9.05h-6.78zM129.54 180.82h8v9.05h-8zM139.18 180.82h8v9.05h-8zM148.82 180.82h8v9.05h-8zM168.1 180.82h8v9.05h-8zM197.02 180.82h8v9.05h-8zM206.66 180.82h8v9.05h-8zM216.3 180.82h8v9.05h-8zM225.94 180.82h8v9.05h-8zM235.58 180.82h8v9.05h-8zM245.22 180.82h8v9.05h-8zM254.86 180.82h8v9.05h-8zM264.5 180.82h8v9.05h-8zM274.14 180.82h8v9.05h-8zM283.78 180.82h8v9.05h-8zM293.42 180.82h8v9.05h-8zM303.06 180.82h8v9.05h-8zM312.7 180.82h8v9.05h-8zM331.98 180.82h8v9.05h-8zM351.26 180.82h8v9.05h-8zM360.9 180.82h8v9.05h-8zM370.54 180.82h8v9.05h-8zM380.18 180.82h8v9.05h-8zM389.82 180.82h8v9.05h-8zM399.46 180.82h8v9.05h-8zM409.1 180.82h8v9.05h-8zM418.74 180.82h8v9.05h-8zM428.38 180.82h8v9.05h-8zM438.02 180.82h8v9.05h-8zM447.66 180.82h8v9.05h-8zM457.3 180.82h8v9.05h-8zM466.94 180.82h8v9.05h-8zM476.58 180.82h8v9.05h-8zM486.22 180.82h6.78v9.05h-6.78zM129.54 191.94h8v9.05h-8zM139.18 191.94h8v9.05h-8zM148.82 191.94h8v9.05h-8zM158.46 191.94h8v9.05h-8zM168.1 191.94h8v9.05h-8zM177.74 191.94h8v9.05h-8zM187.38 191.94h8v9.05h-8zM197.02 191.94h8v9.05h-8zM206.66 191.94h8v9.05h-8zM216.3 191.94h8v9.05h-8zM225.94 191.94h8v9.05h-8zM235.58 191.94h8v9.05h-8zM245.22 191.94h8v9.05h-8zM254.86 191.94h8v9.05h-8zM274.14 191.94h8v9.05h-8zM283.78 191.94h8v9.05h-8zM293.42 191.94h8v9.05h-8zM303.06 191.94h8v9.05h-8zM312.7 191.94h8v9.05h-8zM322.34 191.94h8v9.05h-8zM331.98 191.94h8v9.05h-8zM341.62 191.94h8v9.05h-8zM370.54 191.94h8v9.05h-8zM380.18 191.94h8v9.05h-8zM399.46 191.94h8v9.05h-8zM409.1 191.94h8v9.05h-8zM428.38 191.94h8v9.05h-8zM438.02 191.94h8v9.05h-8zM447.66 191.94h8v9.05h-8zM457.3 191.94h8v9.05h-8zM466.94 191.94h8v9.05h-8zM476.58 191.94h8v9.05h-8zM486.22 191.94h6.78v9.05h-6.78zM129.54 203.06h8v9.05h-8zM139.18 203.06h8v9.05h-8zM148.82 203.06h8v9.05h-8zM158.46 203.06h8v9.05h-8zM168.1 203.06h8v9.05h-8zM177.74 203.06h8v9.05h-8zM187.38 203.06h8v9.05h-8zM197.02 203.06h8v9.05h-8zM206.66 203.06h8v9.05h-8zM216.3 203.06h8v9.05h-8zM225.94 203.06h8v9.05h-8zM235.58 203.06h8v9.05h-8zM245.22 203.06h8v9.05h-8zM264.5 203.06h8v9.05h-8zM274.14 203.06h8v9.05h-8zM283.78 203.06h8v9.05h-8zM293.42 203.06h8v9.05h-8zM303.06 203.06h8v9.05h-8zM322.34 203.06h8v9.05h-8zM331.98 203.06h8v9.05h-8zM341.62 203.06h8v9.05h-8zM370.54 203.06h8v9.05h-8zM380.18 203.06h8v9.05h-8zM399.46 203.06h8v9.05h-8zM409.1 203.06h8v9.05h-8zM418.74 203.06h8v9.05h-8zM428.38 203.06h8v9.05h-8zM438.02 203.06h8v9.05h-8zM447.66 203.06h8v9.05h-8zM457.3 203.06h8v9.05h-8zM466.94 203.06h8v9.05h-8zM476.58 203.06h8v9.05h-8zM486.22 203.06h6.78v9.05h-6.78zM119.9 214.18h8v9.05h-8zM139.18 214.18h8v9.05h-8zM158.46 214.18h8v9.05h-8zM168.1 214.18h8v9.05h-8zM177.74 214.18h8v9.05h-8zM187.38 214.18h8v9.05h-8zM197.02 214.18h8v9.05h-8zM206.66 214.18h8v9.05h-8zM216.3 214.18h8v9.05h-8zM225.94 214.18h8v9.05h-8zM245.22 214.18h8v9.05h-8zM254.86 214.18h8v9.05h-8zM274.14 214.18h8v9.05h-8zM283.78 214.18h8v9.05h-8zM293.42 214.18h8v9.05h-8zM303.06 214.18h8v9.05h-8zM312.7 214.18h8v9.05h-8zM322.34 214.18h8v9.05h-8zM331.98 214.18h8v9.05h-8zM341.62 214.18h8v9.05h-8zM351.26 214.18h8v9.05h-8zM360.9 214.18h8v9.05h-8zM370.54 214.18h8v9.05h-8zM380.18 214.18h8v9.05h-8zM409.1 214.18h8v9.05h-8zM418.74 214.18h8v9.05h-8zM428.38 214.18h8v9.05h-8zM438.02 214.18h8v9.05h-8zM447.66 214.18h8v9.05h-8zM457.3 214.18h8v9.05h-8zM466.94 214.18h8v9.05h-8zM476.58 214.18h8v9.05h-8zM486.22 214.18h6.78v9.05h-6.78zM119.9 225.3h8v9.05h-8zM129.54 225.3h8v9.05h-8zM148.82 225.3h8v9.05h-8zM158.46 225.3h8v9.05h-8zM168.1 225.3h8v9.05h-8zM177.74 225.3h8v9.05h-8zM206.66 225.3h8v9.05h-8zM216.3 225.3h8v9.05h-8zM225.94 225.3h8v9.05h-8zM235.58 225.3h8v9.05h-8zM245.22 225.3h8v9.05h-8zM254.86 225.3h8v9.05h-8zM264.5 225.3h8v9.05h-8zM274.14 225.3h8v9.05h-8zM283.78 225.3h8v9.05h-8zM293.42 225.3h8v9.05h-8zM312.7 225.3h8v9.05h-8zM322.34 225.3h8v9.05h-8zM331.98 225.3h8v9.05h-8zM341.62 225.3h8v9.05h-8zM351.26 225.3h8v9.05h-8zM360.9 225.3h8v9.05h-8zM370.54 225.3h8v9.05h-8zM380.18 225.3h8v9.05h-8zM389.82 225.3h8v9.05h-8zM399.46 225.3h8v9.05h-8zM409.1 225.3h8v9.05h-8zM428.38 225.3h8v9.05h-8zM447.66 225.3h8v9.05h-8zM457.3 225.3h8v9.05h-8zM466.94 225.3h8v9.05h-8zM476.58 225.3h8v9.05h-8zM486.22 225.3h6.78v9.05h-6.78zM119.9 236.42h8v9.05h-8zM129.54 236.42h8v9.05h-8zM148.82 236.42h8v9.05h-8zM158.46 236.42h8v9.05h-8zM168.1 236.42h8v9.05h-8zM177.74 236.42h8v9.05h-8zM187.38 236.42h8v9.05h-8zM197.02 236.42h8v9.05h-8zM206.66 236.42h8v9.05h-8zM225.94 236.42h8v9.05h-8zM235.58 236.42h8v9.05h-8zM245.22 236.42h8v9.05h-8zM254.86 236.42h8v9.05h-8zM264.5 236.42h8v9.05h-8zM274.14 236.42h8v9.05h-8zM283.78 236.42h8v9.05h-8zM303.06 236.42h8v9.05h-8zM322.34 236.42h8v9.05h-8zM331.98 236.42h8v9.05h-8zM341.62 236.42h8v9.05h-8zM351.26 236.42h8v9.05h-8zM360.9 236.42h8v9.05h-8zM370.54 236.42h8v9.05h-8zM380.18 236.42h8v9.05h-8zM389.82 236.42h8v9.05h-8zM399.46 236.42h8v9.05h-8zM409.1 236.42h8v9.05h-8zM418.74 236.42h8v9.05h-8zM428.38 236.42h8v9.05h-8zM438.02 236.42h8v9.05h-8zM466.94 236.42h8v9.05h-8zM476.58 236.42h8v9.05h-8zM486.22 236.42h6.78v9.05h-6.78zM119.9 247.54h8v9.05h-8zM129.54 247.54h8v9.05h-8zM139.18 247.54h8v9.05h-8zM158.46 247.54h8v9.05h-8zM168.1 247.54h8v9.05h-8zM177.74 247.54h8v9.05h-8zM187.38 247.54h8v9.05h-8zM197.02 247.54h8v9.05h-8zM206.66 247.54h8v9.05h-8zM216.3 247.54h8v9.05h-8zM225.94 247.54h8v9.05h-8zM245.22 247.54h8v9.05h-8zM254.86 247.54h8v9.05h-8zM274.14 247.54h8v9.05h-8zM283.78 247.54h8v9.05h-8zM293.42 247.54h8v9.05h-8zM303.06 247.54h8v9.05h-8zM312.7 247.54h8v9.05h-8zM322.34 247.54h8v9.05h-8zM331.98 247.54h8v9.05h-8zM341.62 247.54h8v9.05h-8zM360.9 247.54h8v9.05h-8zM370.54 247.54h8v9.05h-8zM380.18 247.54h8v9.05h-8zM409.1 247.54h8v9.05h-8zM418.74 247.54h8v9.05h-8zM428.38 247.54h8v9.05h-8zM438.02 247.54h8v9.05h-8zM447.66 247.54h8v9.05h-8zM457.3 247.54h8v9.05h-8zM466.94 247.54h8v9.05h-8zM476.58 247.54h8v9.05h-8zM486.22 247.54h6.78v9.05h-6.78zM119.9 258.66h8v9.05h-8zM129.54 258.66h8v9.05h-8zM139.18 258.66h8v9.05h-8zM158.46 258.66h8v9.05h-8zM168.1 258.66h8v9.05h-8zM177.74 258.66h8v9.05h-8zM187.38 258.66h8v9.05h-8zM197.02 258.66h8v9.05h-8zM206.66 258.66h8v9.05h-8zM216.3 258.66h8v9.05h-8zM225.94 258.66h8v9.05h-8zM245.22 258.66h8v9.05h-8zM254.86 258.66h8v9.05h-8zM274.14 258.66h8v9.05h-8zM283.78 258.66h8v9.05h-8zM293.42 258.66h8v9.05h-8zM303.06 258.66h8v9.05h-8zM322.34 258.66h8v9.05h-8zM331.98 258.66h8v9.05h-8zM341.62 258.66h8v9.05h-8zM351.26 258.66h8v9.05h-8zM360.9 258.66h8v9.05h-8zM370.54 258.66h8v9.05h-8zM380.18 258.66h8v9.05h-8zM409.1 258.66h8v9.05h-8zM418.74 258.66h8v9.05h-8zM428.38 258.66h8v9.05h-8zM438.02 258.66h8v9.05h-8zM447.66 258.66h8v9.05h-8zM457.3 258.66h8v9.05h-8zM466.94 258.66h8v9.05h-8zM476.58 258.66h8v9.05h-8zM486.22 258.66h6.78v9.05h-6.78zM119.9 269.78h8v9.05h-8zM129.54 269.78h8v9.05h-8zM139.18 269.78h8v9.05h-8zM148.82 269.78h8v9.05h-8zM158.46 269.78h8v9.05h-8zM168.1 269.78h8v9.05h-8zM187.38 269.78h8v9.05h-8zM197.02 269.78h8v9.05h-8zM206.66 269.78h8v9.05h-8zM216.3 269.78h8v9.05h-8zM225.94 269.78h8v9.05h-8zM235.58 269.78h8v9.05h-8zM245.22 269.78h8v9.05h-8zM254.86 269.78h8v9.05h-8zM274.14 269.78h8v9.05h-8zM283.78 269.78h8v9.05h-8zM293.42 269.78h8v9.05h-8zM303.06 269.78h8v9.05h-8zM312.7 269.78h8v9.05h-8zM322.34 269.78h8v9.05h-8zM331.98 269.78h8v9.05h-8zM341.62 269.78h8v9.05h-8zM351.26 269.78h8v9.05h-8zM360.9 269.78h8v9.05h-8zM370.54 269.78h8v9.05h-8zM399.46 269.78h8v9.05h-8zM409.1 269.78h8v9.05h-8zM438.02 269.78h8v9.05h-8zM447.66 269.78h8v9.05h-8zM457.3 269.78h8v9.05h-8zM466.94 269.78h8v9.05h-8zM476.58 269.78h8v9.05h-8zM486.22 269.78h6.78v9.05h-6.78zM119.9 280.9h8v9.05h-8zM129.54 280.9h8v9.05h-8zM139.18 280.9h8v9.05h-8zM148.82 280.9h8v9.05h-8zM158.46 280.9h8v9.05h-8zM168.1 280.9h8v9.05h-8zM177.74 280.9h8v9.05h-8zM187.38 280.9h8v9.05h-8zM197.02 280.9h8v9.05h-8zM216.3 280.9h8v9.05h-8zM225.94 280.9h8v9.05h-8zM245.22 280.9h8v9.05h-8zM254.86 280.9h8v9.05h-8zM264.5 280.9h8v9.05h-8zM274.14 280.9h8v9.05h-8zM283.78 280.9h8v9.05h-8zM293.42 280.9h8v9.05h-8zM312.7 280.9h8v9.05h-8zM322.34 280.9h8v9.05h-8zM331.98 280.9h8v9.05h-8zM351.26 280.9h8v9.05h-8zM360.9 280.9h8v9.05h-8zM370.54 280.9h8v9.05h-8zM380.18 280.9h8v9.05h-8zM389.82 280.9h8v9.05h-8zM418.74 280.9h8v9.05h-8zM428.38 280.9h8v9.05h-8zM438.02 280.9h8v9.05h-8zM447.66 280.9h8v9.05h-8zM457.3 280.9h8v9.05h-8zM466.94 280.9h8v9.05h-8zM476.58 280.9h8v9.05h-8zM486.22 280.9h6.78v9.05h-6.78zM129.54 292.02h8v9.05h-8zM139.18 292.02h8v9.05h-8zM148.82 292.02h8v9.05h-8zM158.46 292.02h8v9.05h-8zM168.1 292.02h8v9.05h-8zM177.74 292.02h8v9.05h-8zM187.38 292.02h8v9.05h-8zM197.02 292.02h8v9.05h-8zM206.66 292.02h8v9.05h-8zM216.3 292.02h8v9.05h-8zM235.58 292.02h8v9.05h-8zM245.22 292.02h8v9.05h-8zM254.86 292.02h8v9.05h-8zM264.5 292.02h8v9.05h-8zM274.14 292.02h8v9.05h-8zM283.78 292.02h8v9.05h-8zM303.06 292.02h8v9.05h-8zM322.34 292.02h8v9.05h-8zM331.98 292.02h8v9.05h-8zM341.62 292.02h8v9.05h-8zM351.26 292.02h8v9.05h-8zM370.54 292.02h8v9.05h-8zM380.18 292.02h8v9.05h-8zM389.82 292.02h8v9.05h-8zM399.46 292.02h8v9.05h-8zM409.1 292.02h8v9.05h-8zM418.74 292.02h8v9.05h-8zM428.38 292.02h8v9.05h-8zM438.02 292.02h8v9.05h-8zM447.66 292.02h8v9.05h-8zM457.3 292.02h8v9.05h-8zM466.94 292.02h8v9.05h-8zM476.58 292.02h8v9.05h-8zM486.22 292.02h6.78v9.05h-6.78zM129.54 303.14h8v9.05h-8zM139.18 303.14h8v9.05h-8zM148.82 303.14h8v9.05h-8zM158.46 303.14h8v9.05h-8zM168.1 303.14h8v9.05h-8zM177.74 303.14h8v9.05h-8zM197.02 303.14h8v9.05h-8zM206.66 303.14h8v9.05h-8zM216.3 303.14h8v9.05h-8zM225.94 303.14h8v9.05h-8zM235.58 303.14h8v9.05h-8zM245.22 303.14h8v9.05h-8zM264.5 303.14h8v9.05h-8zM274.14 303.14h8v9.05h-8zM283.78 303.14h8v9.05h-8zM293.42 303.14h8v9.05h-8zM303.06 303.14h8v9.05h-8zM312.7 303.14h8v9.05h-8zM322.34 303.14h8v9.05h-8zM331.98 303.14h8v9.05h-8zM341.62 303.14h8v9.05h-8zM370.54 303.14h8v9.05h-8zM380.18 303.14h8v9.05h-8zM389.82 303.14h8v9.05h-8zM399.46 303.14h8v9.05h-8zM409.1 303.14h8v9.05h-8zM418.74 303.14h8v9.05h-8zM428.38 303.14h8v9.05h-8zM438.02 303.14h8v9.05h-8zM447.66 303.14h8v9.05h-8zM457.3 303.14h8v9.05h-8zM466.94 303.14h8v9.05h-8zM476.58 303.14h8v9.05h-8zM486.22 303.14h6.78v9.05h-6.78zM129.54 314.26h8v9.05h-8zM139.18 314.26h8v9.05h-8zM158.46 314.26h8v9.05h-8zM168.1 314.26h8v9.05h-8zM177.74 314.26h8v9.05h-8zM206.66 314.26h8v9.05h-8zM216.3 314.26h8v9.05h-8zM235.58 314.26h8v9.05h-8zM245.22 314.26h8v9.05h-8zM254.86 314.26h8v9.05h-8zM264.5 314.26h8v9.05h-8zM274.14 314.26h8v9.05h-8zM283.78 314.26h8v9.05h-8zM293.42 314.26h8v9.05h-8zM303.06 314.26h8v9.05h-8zM312.7 314.26h8v9.05h-8zM322.34 314.26h8v9.05h-8zM331.98 314.26h8v9.05h-8zM341.62 314.26h8v9.05h-8zM351.26 314.26h8v9.05h-8zM360.9 314.26h8v9.05h-8zM370.54 314.26h8v9.05h-8zM380.18 314.26h8v9.05h-8zM389.82 314.26h8v9.05h-8zM399.46 314.26h8v9.05h-8zM409.1 314.26h8v9.05h-8zM418.74 314.26h8v9.05h-8zM428.38 314.26h8v9.05h-8zM438.02 314.26h8v9.05h-8zM447.66 314.26h8v9.05h-8zM457.3 314.26h8v9.05h-8zM466.94 314.26h8v9.05h-8zM476.58 314.26h8v9.05h-8zM486.22 314.26h6.78v9.05h-6.78zM119.9 325.38h8v9.05h-8zM129.54 325.38h8v9.05h-8zM148.82 325.38h8v9.05h-8zM158.46 325.38h8v9.05h-8zM168.1 325.38h8v9.05h-8zM177.74 325.38h8v9.05h-8zM187.38 325.38h8v9.05h-8zM197.02 325.38h8v9.05h-8zM206.66 325.38h8v9.05h-8zM216.3 325.38h8v9.05h-8zM225.94 325.38h8v9.05h-8zM235.58 325.38h8v9.05h-8zM245.22 325.38h8v9.05h-8zM254.86 325.38h8v9.05h-8zM264.5 325.38h8v9.05h-8zM274.14 325.38h8v9.05h-8zM283.78 325.38h8v9.05h-8zM293.42 325.38h8v9.05h-8zM322.34 325.38h8v9.05h-8zM331.98 325.38h8v9.05h-8zM341.62 325.38h8v9.05h-8zM351.26 325.38h8v9.05h-8zM360.9 325.38h8v9.05h-8zM370.54 325.38h8v9.05h-8zM380.18 325.38h8v9.05h-8zM389.82 325.38h8v9.05h-8zM399.46 325.38h8v9.05h-8zM409.1 325.38h8v9.05h-8zM428.38 325.38h8v9.05h-8zM447.66 325.38h8v9.05h-8zM457.3 325.38h8v9.05h-8zM466.94 325.38h8v9.05h-8zM476.58 325.38h8v9.05h-8zM486.22 325.38h6.78v9.05h-6.78zM119.9 336.5h8v9.05h-8zM129.54 336.5h8v9.05h-8zM139.18 336.5h8v9.05h-8zM148.82 336.5h8v9.05h-8zM158.46 336.5h8v9.05h-8zM168.1 336.5h8v9.05h-8zM177.74 336.5h8v9.05h-8zM187.38 336.5h8v9.05h-8zM197.02 336.5h8v9.05h-8zM206.66 336.5h8v9.05h-8zM216.3 336.5h8v9.05h-8zM225.94 336.5h8v9.05h-8zM235.58 336.5h8v9.05h-8zM245.22 336.5h8v9.05h-8zM254.86 336.5h8v9.05h-8zM264.5 336.5h8v9.05h-8zM274.14 336.5h8v9.05h-8zM283.78 336.5h8v9.05h-8zM293.42 336.5h8v9.05h-8zM312.7 336.5h8v9.05h-8zM322.34 336.5h8v9.05h-8zM331.98 336.5h8v9.05h-8zM341.62 336.5h8v9.05h-8zM370.54 336.5h8v9.05h-8zM380.18 336.5h8v9.05h-8zM399.46 336.5h8v9.05h-8zM409.1 336.5h8v9.05h-8zM418.74 336.5h8v9.05h-8zM428.38 336.5h8v9.05h-8zM438.02 336.5h8v9.05h-8zM447.66 336.5h8v9.05h-8zM457.3 336.5h8v9.05h-8zM476.58 336.5h8v9.05h-8zM486.22 336.5h6.78v9.05h-6.78zM119.9 347.62h8v9.05h-8zM129.54 347.62h8v9.05h-8zM139.18 347.62h8v9.05h-8zM148.82 347.62h8v9.05h-8zM168.1 347.62h8v9.05h-8zM197.02 347.62h8v9.05h-8zM206.66 347.62h8v9.05h-8zM216.3 347.62h8v9.05h-8zM225.94 347.62h8v9.05h-8zM235.58 347.62h8v9.05h-8zM245.22 347.62h8v9.05h-8zM254.86 347.62h8v9.05h-8zM264.5 347.62h8v9.05h-8zM274.14 347.62h8v9.05h-8zM283.78 347.62h8v9.05h-8zM293.42 347.62h8v9.05h-8zM303.06 347.62h8v9.05h-8zM312.7 347.62h8v9.05h-8zM331.98 347.62h8v9.05h-8zM341.62 347.62h8v9.05h-8zM351.26 347.62h8v9.05h-8zM360.9 347.62h8v9.05h-8zM370.54 347.62h8v9.05h-8zM380.18 347.62h8v9.05h-8zM389.82 347.62h8v9.05h-8zM399.46 347.62h8v9.05h-8zM409.1 347.62h8v9.05h-8zM418.74 347.62h8v9.05h-8zM428.38 347.62h8v9.05h-8zM438.02 347.62h8v9.05h-8zM447.66 347.62h8v9.05h-8zM457.3 347.62h8v9.05h-8zM466.94 347.62h8v9.05h-8zM476.58 347.62h8v9.05h-8zM486.22 347.62h6.78v9.05h-6.78zM119.9 358.74h8v9.05h-8zM129.54 358.74h8v9.05h-8zM139.18 358.74h8v9.05h-8zM148.82 358.74h8v9.05h-8zM168.1 358.74h8v9.05h-8zM197.02 358.74h8v9.05h-8zM206.66 358.74h8v9.05h-8zM216.3 358.74h8v9.05h-8zM225.94 358.74h8v9.05h-8zM235.58 358.74h8v9.05h-8zM245.22 358.74h8v9.05h-8zM254.86 358.74h8v9.05h-8zM264.5 358.74h8v9.05h-8zM274.14 358.74h8v9.05h-8zM283.78 358.74h8v9.05h-8zM293.42 358.74h8v9.05h-8zM303.06 358.74h8v9.05h-8zM312.7 358.74h8v9.05h-8zM331.98 358.74h8v9.05h-8zM341.62 358.74h8v9.05h-8zM351.26 358.74h8v9.05h-8zM360.9 358.74h8v9.05h-8zM370.54 358.74h8v9.05h-8zM380.18 358.74h8v9.05h-8zM389.82 358.74h8v9.05h-8zM399.46 358.74h8v9.05h-8zM409.1 358.74h8v9.05h-8zM418.74 358.74h8v9.05h-8zM428.38 358.74h8v9.05h-8zM438.02 358.74h8v9.05h-8zM447.66 358.74h8v9.05h-8zM457.3 358.74h8v9.05h-8zM466.94 358.74h8v9.05h-8zM476.58 358.74h8v9.05h-8zM486.22 358.74h6.78v9.05h-6.78zM119.9 369.86h8v9.05h-8zM129.54 369.86h8v9.05h-8zM139.18 369.86h8v9.05h-8zM148.82 369.86h8v9.05h-8zM158.46 369.86h8v9.05h-8zM177.74 369.86h8v9.05h-8zM187.38 369.86h8v9.05h-8zM197.02 369.86h8v9.05h-8zM206.66 369.86h8v9.05h-8zM216.3 369.86h8v9.05h-8zM225.94 369.86h8v9.05h-8zM235.58 369.86h8v9.05h-8zM254.86 369.86h8v9.05h-8zM264.5 369.86h8v9.05h-8zM274.14 369.86h8v9.05h-8zM283.78 369.86h8v9.05h-8zM293.42 369.86h8v9.05h-8zM303.06 369.86h8v9.05h-8zM322.34 369.86h8v9.05h-8zM331.98 369.86h8v9.05h-8zM341.62 369.86h8v9.05h-8zM351.26 369.86h8v9.05h-8zM360.9 369.86h8v9.05h-8zM380.18 369.86h8v9.05h-8zM389.82 369.86h8v9.05h-8zM399.46 369.86h8v9.05h-8zM409.1 369.86h8v9.05h-8zM418.74 369.86h8v9.05h-8zM428.38 369.86h8v9.05h-8zM438.02 369.86h8v9.05h-8zM447.66 369.86h8v9.05h-8zM457.3 369.86h8v9.05h-8zM466.94 369.86h8v9.05h-8zM476.58 369.86h8v9.05h-8zM486.22 369.86h6.78v9.05h-6.78zM129.54 380.98h8v9.05h-8zM139.18 380.98h8v9.05h-8zM148.82 380.98h8v9.05h-8zM158.46 380.98h8v9.05h-8zM168.1 380.98h8v9.05h-8zM177.74 380.98h8v9.05h-8zM187.38 380.98h8v9.05h-8zM197.02 380.98h8v9.05h-8zM206.66 380.98h8v9.05h-8zM216.3 380.98h8v9.05h-8zM225.94 380.98h8v9.05h-8zM235.58 380.98h8v9.05h-8zM245.22 380.98h8v9.05h-8zM254.86 380.98h8v9.05h-8zM264.5 380.98h8v9.05h-8zM274.14 380.98h8v9.05h-8zM283.78 380.98h8v9.05h-8zM293.42 380.98h8v9.05h-8zM303.06 380.98h8v9.05h-8zM312.7 380.98h8v9.05h-8zM322.34 380.98h8v9.05h-8zM331.98 380.98h8v9.05h-8zM341.62 380.98h8v9.05h-8zM351.26 380.98h8v9.05h-8zM360.9 380.98h8v9.05h-8zM370.54 380.98h8v9.05h-8zM380.18 380.98h8v9.05h-8zM389.82 380.98h8v9.05h-8zM399.46 380.98h8v9.05h-8zM409.1 380.98h8v9.05h-8zM428.38 380.98h8v9.05h-8zM447.66 380.98h8v9.05h-8zM457.3 380.98h8v9.05h-8zM466.94 380.98h8v9.05h-8zM476.58 380.98h8v9.05h-8zM486.22 380.98h6.78v9.05h-6.78zM119.9 392.1h8v9.05h-8zM129.54 392.1h8v9.05h-8zM139.18 392.1h8v9.05h-8zM148.82 392.1h8v9.05h-8zM158.46 392.1h8v9.05h-8zM168.1 392.1h8v9.05h-8zM177.74 392.1h8v9.05h-8zM197.02 392.1h8v9.05h-8zM206.66 392.1h8v9.05h-8zM216.3 392.1h8v9.05h-8zM225.94 392.1h8v9.05h-8zM245.22 392.1h8v9.05h-8zM254.86 392.1h8v9.05h-8zM264.5 392.1h8v9.05h-8zM274.14 392.1h8v9.05h-8zM283.78 392.1h8v9.05h-8zM293.42 392.1h8v9.05h-8zM303.06 392.1h8v9.05h-8zM312.7 392.1h8v9.05h-8zM322.34 392.1h8v9.05h-8zM331.98 392.1h8v9.05h-8zM341.62 392.1h8v9.05h-8zM351.26 392.1h8v9.05h-8zM360.9 392.1h8v9.05h-8zM370.54 392.1h8v9.05h-8zM380.18 392.1h8v9.05h-8zM399.46 392.1h8v9.05h-8zM409.1 392.1h8v9.05h-8zM418.74 392.1h8v9.05h-8zM428.38 392.1h8v9.05h-8zM438.02 392.1h8v9.05h-8zM447.66 392.1h8v9.05h-8zM457.3 392.1h8v9.05h-8zM466.94 392.1h8v9.05h-8zM476.58 392.1h8v9.05h-8zM486.22 392.1h6.78v9.05h-6.78zM119.9 403.22h8v9.05h-8zM129.54 403.22h8v9.05h-8zM139.18 403.22h8v9.05h-8zM148.82 403.22h8v9.05h-8zM158.46 403.22h8v9.05h-8zM168.1 403.22h8v9.05h-8zM177.74 403.22h8v9.05h-8zM197.02 403.22h8v9.05h-8zM206.66 403.22h8v9.05h-8zM216.3 403.22h8v9.05h-8zM225.94 403.22h8v9.05h-8zM235.58 403.22h8v9.05h-8zM245.22 403.22h8v9.05h-8zM254.86 403.22h8v9.05h-8zM264.5 403.22h8v9.05h-8zM274.14 403.22h8v9.05h-8zM283.78 403.22h8v9.05h-8zM293.42 403.22h8v9.05h-8zM312.7 403.22h8v9.05h-8zM322.34 403.22h8v9.05h-8zM331.98 403.22h8v9.05h-8zM341.62 403.22h8v9.05h-8zM351.26 403.22h8v9.05h-8zM360.9 403.22h8v9.05h-8zM370.54 403.22h8v9.05h-8zM380.18 403.22h8v9.05h-8zM389.82 403.22h8v9.05h-8zM399.46 403.22h8v9.05h-8zM409.1 403.22h8v9.05h-8zM418.74 403.22h8v9.05h-8zM438.02 403.22h8v9.05h-8zM447.66 403.22h8v9.05h-8zM457.3 403.22h8v9.05h-8zM466.94 403.22h8v9.05h-8zM476.58 403.22h8v9.05h-8zM486.22 403.22h6.78v9.05h-6.78zM119.9 414.34h8v9.05h-8zM129.54 414.34h8v9.05h-8zM139.18 414.34h8v9.05h-8zM148.82 414.34h8v9.05h-8zM158.46 414.34h8v9.05h-8zM168.1 414.34h8v9.05h-8zM177.74 414.34h8v9.05h-8zM187.38 414.34h8v9.05h-8zM197.02 414.34h8v9.05h-8zM216.3 414.34h8v9.05h-8zM225.94 414.34h8v9.05h-8zM235.58 414.34h8v9.05h-8zM245.22 414.34h8v9.05h-8zM254.86 414.34h8v9.05h-8zM264.5 414.34h8v9.05h-8zM274.14 414.34h8v9.05h-8zM283.78 414.34h8v9.05h-8zM303.06 414.34h8v9.05h-8zM312.7 414.34h8v9.05h-8zM322.34 414.34h8v9.05h-8zM331.98 414.34h8v9.05h-8zM351.26 414.34h8v9.05h-8zM360.9 414.34h8v9.05h-8zM370.54 414.34h8v9.05h-8zM380.18 414.34h8v9.05h-8zM389.82 414.34h8v9.05h-8zM399.46 414.34h8v9.05h-8zM409.1 414.34h8v9.05h-8zM418.74 414.34h8v9.05h-8zM428.38 414.34h8v9.05h-8zM438.02 414.34h8v9.05h-8zM447.66 414.34h8v9.05h-8zM457.3 414.34h8v9.05h-8zM466.94 414.34h8v9.05h-8zM476.58 414.34h8v9.05h-8zM486.22 414.34h6.78v9.05h-6.78zM119.9 425.46h8v9.05h-8zM129.54 425.46h8v9.05h-8zM139.18 425.46h8v9.05h-8zM148.82 425.46h8v9.05h-8zM158.46 425.46h8v9.05h-8zM168.1 425.46h8v9.05h-8zM177.74 425.46h8v9.05h-8zM187.38 425.46h8v9.05h-8zM197.02 425.46h8v9.05h-8zM206.66 425.46h8v9.05h-8zM216.3 425.46h8v9.05h-8zM225.94 425.46h8v9.05h-8zM235.58 425.46h8v9.05h-8zM245.22 425.46h8v9.05h-8zM254.86 425.46h8v9.05h-8zM264.5 425.46h8v9.05h-8zM274.14 425.46h8v9.05h-8zM283.78 425.46h8v9.05h-8zM293.42 425.46h8v9.05h-8zM303.06 425.46h8v9.05h-8zM322.34 425.46h8v9.05h-8zM331.98 425.46h8v9.05h-8zM341.62 425.46h8v9.05h-8zM370.54 425.46h8v9.05h-8zM380.18 425.46h8v9.05h-8zM389.82 425.46h8v9.05h-8zM399.46 425.46h8v9.05h-8zM409.1 425.46h8v9.05h-8zM418.74 425.46h8v9.05h-8zM428.38 425.46h8v9.05h-8zM438.02 425.46h8v9.05h-8zM447.66 425.46h8v9.05h-8zM457.3 425.46h8v9.05h-8zM466.94 425.46h8v9.05h-8zM476.58 425.46h8v9.05h-8zM486.22 425.46h6.78v9.05h-6.78zM129.54 436.58h8v9.05h-8zM139.18 436.58h8v9.05h-8zM148.82 436.58h8v9.05h-8zM158.46 436.58h8v9.05h-8zM168.1 436.58h8v9.05h-8zM177.74 436.58h8v9.05h-8zM187.38 436.58h8v9.05h-8zM197.02 436.58h8v9.05h-8zM206.66 436.58h8v9.05h-8zM216.3 436.58h8v9.05h-8zM225.94 436.58h8v9.05h-8zM235.58 436.58h8v9.05h-8zM245.22 436.58h8v9.05h-8zM264.5 436.58h8v9.05h-8zM274.14 436.58h8v9.05h-8zM283.78 436.58h8v9.05h-8zM293.42 436.58h8v9.05h-8zM303.06 436.58h8v9.05h-8zM312.7 436.58h8v9.05h-8zM322.34 436.58h8v9.05h-8zM331.98 436.58h8v9.05h-8zM341.62 436.58h8v9.05h-8zM351.26 436.58h8v9.05h-8zM360.9 436.58h8v9.05h-8zM370.54 436.58h8v9.05h-8zM380.18 436.58h8v9.05h-8zM389.82 436.58h8v9.05h-8zM399.46 436.58h8v9.05h-8zM409.1 436.58h8v9.05h-8zM418.74 436.58h8v9.05h-8zM428.38 436.58h8v9.05h-8zM438.02 436.58h8v9.05h-8zM447.66 436.58h8v9.05h-8zM457.3 436.58h8v9.05h-8zM466.94 436.58h8v9.05h-8zM476.58 436.58h8v9.05h-8zM486.22 436.58h6.78v9.05h-6.78zM129.54 447.7h8v9.05h-8zM139.18 447.7h8v9.05h-8zM148.82 447.7h8v9.05h-8zM158.46 447.7h8v9.05h-8zM168.1 447.7h8v9.05h-8zM177.74 447.7h8v9.05h-8zM187.38 447.7h8v9.05h-8zM197.02 447.7h8v9.05h-8zM206.66 447.7h8v9.05h-8zM216.3 447.7h8v9.05h-8zM225.94 447.7h8v9.05h-8zM235.58 447.7h8v9.05h-8zM245.22 447.7h8v9.05h-8zM254.86 447.7h8v9.05h-8zM264.5 447.7h8v9.05h-8zM274.14 447.7h8v9.05h-8zM283.78 447.7h8v9.05h-8zM293.42 447.7h8v9.05h-8zM303.06 447.7h8v9.05h-8zM312.7 447.7h8v9.05h-8zM322.34 447.7h8v9.05h-8zM331.98 447.7h8v9.05h-8zM341.62 447.7h8v9.05h-8zM360.9 447.7h8v9.05h-8zM370.54 447.7h8v9.05h-8zM380.18 447.7h8v9.05h-8zM389.82 447.7h8v9.05h-8zM399.46 447.7h8v9.05h-8zM409.1 447.7h8v9.05h-8zM418.74 447.7h8v9.05h-8zM428.38 447.7h8v9.05h-8zM438.02 447.7h8v9.05h-8zM447.66 447.7h8v9.05h-8zM457.3 447.7h8v9.05h-8zM466.94 447.7h8v9.05h-8zM476.58 447.7h8v9.05h-8zM486.22 447.7h6.78v9.05h-6.78zM129.54 458.82h8v9.05h-8zM139.18 458.82h8v9.05h-8zM148.82 458.82h8v9.05h-8zM158.46 458.82h8v9.05h-8zM168.1 458.82h8v9.05h-8zM177.74 458.82h8v9.05h-8zM187.38 458.82h8v9.05h-8zM197.02 458.82h8v9.05h-8zM206.66 458.82h8v9.05h-8zM216.3 458.82h8v9.05h-8zM225.94 458.82h8v9.05h-8zM235.58 458.82h8v9.05h-8zM245.22 458.82h8v9.05h-8zM254.86 458.82h8v9.05h-8zM264.5 458.82h8v9.05h-8zM274.14 458.82h8v9.05h-8zM283.78 458.82h8v9.05h-8zM293.42 458.82h8v9.05h-8zM303.06 458.82h8v9.05h-8zM312.7 458.82h8v9.05h-8zM322.34 458.82h8v9.05h-8zM331.98 458.82h8v9.05h-8zM341.62 458.82h8v9.05h-8zM351.26 458.82h8v9.05h-8zM360.9 458.82h8v9.05h-8zM370.54 458.82h8v9.05h-8zM380.18 458.82h8v9.05h-8zM389.82 458.82h8v9.05h-8zM399.46 458.82h8v9.05h-8zM409.1 458.82h8v9.05h-8zM418.74 458.82h8v9.05h-8zM428.38 458.82h8v9.05h-8zM438.02 458.82h8v9.05h-8zM447.66 458.82h8v9.05h-8zM457.3 458.82h8v9.05h-8zM466.94 458.82h8v9.05h-8zM476.58 458.82h8v9.05h-8zM486.22 458.82h6.78v9.05h-6.78zM119.9 469.94h8v9.05h-8zM129.54 469.94h8v9.05h-8zM139.18 469.94h8v9.05h-8zM148.82 469.94h8v9.05h-8zM158.46 469.94h8v9.05h-8zM168.1 469.94h8v9.05h-8zM177.74 469.94h8v9.05h-8zM197.02 469.94h8v9.05h-8zM206.66 469.94h8v9.05h-8zM216.3 469.94h8v9.05h-8zM225.94 469.94h8v9.05h-8zM235.58 469.94h8v9.05h-8zM245.22 469.94h8v9.05h-8zM254.86 469.94h8v9.05h-8zM264.5 469.94h8v9.05h-8zM274.14 469.94h8v9.05h-8zM283.78 469.94h8v9.05h-8zM293.42 469.94h8v9.05h-8zM303.06 469.94h8v9.05h-8zM312.7 469.94h8v9.05h-8zM322.34 469.94h8v9.05h-8zM331.98 469.94h8v9.05h-8zM341.62 469.94h8v9.05h-8zM351.26 469.94h8v9.05h-8zM360.9 469.94h8v9.05h-8zM370.54 469.94h8v9.05h-8zM380.18 469.94h8v9.05h-8zM389.82 469.94h8v9.05h-8zM399.46 469.94h8v9.05h-8zM409.1 469.94h8v9.05h-8zM418.74 469.94h8v9.05h-8zM428.38 469.94h8v9.05h-8zM438.02 469.94h8v9.05h-8zM447.66 469.94h8v9.05h-8zM457.3 469.94h8v9.05h-8zM466.94 469.94h8v9.05h-8zM476.58 469.94h8v9.05h-8zM486.22 469.94h6.78v9.05h-6.78zM119.9 481.06h8v9.05h-8zM129.54 481.06h8v9.05h-8zM139.18 481.06h8v9.05h-8zM148.82 481.06h8v9.05h-8zM158.46 481.06h8v9.05h-8zM168.1 481.06h8v9.05h-8zM177.74 481.06h8v9.05h-8zM187.38 481.06h8v9.05h-8zM197.02 481.06h8v9.05h-8zM206.66 481.06h8v9.05h-8zM225.94 481.06h8v9.05h-8zM235.58 481.06h8v9.05h-8zM245.22 481.06h8v9.05h-8zM254.86 481.06h8v9.05h-8zM264.5 481.06h8v9.05h-8zM274.14 481.06h8v9.05h-8zM283.78 481.06h8v9.05h-8zM293.42 481.06h8v9.05h-8zM303.06 481.06h8v9.05h-8zM312.7 481.06h8v9.05h-8zM322.34 481.06h8v9.05h-8zM331.98 481.06h8v9.05h-8zM341.62 481.06h8v9.05h-8zM351.26 481.06h8v9.05h-8zM360.9 481.06h8v9.05h-8zM370.54 481.06h8v9.05h-8zM380.18 481.06h8v9.05h-8zM389.82 481.06h8v9.05h-8zM399.46 481.06h8v9.05h-8zM409.1 481.06h8v9.05h-8zM418.74 481.06h8v9.05h-8zM428.38 481.06h8v9.05h-8zM438.02 481.06h8v9.05h-8zM447.66 481.06h8v9.05h-8zM457.3 481.06h8v9.05h-8zM466.94 481.06h8v9.05h-8zM476.58 481.06h8v9.05h-8zM486.22 481.06h6.78v9.05h-6.78zM119.9 492.18h8v9.05h-8zM129.54 492.18h8v9.05h-8zM139.18 492.18h8v9.05h-8zM148.82 492.18h8v9.05h-8zM158.46 492.18h8v9.05h-8zM168.1 492.18h8v9.05h-8zM177.74 492.18h8v9.05h-8zM187.38 492.18h8v9.05h-8zM197.02 492.18h8v9.05h-8zM206.66 492.18h8v9.05h-8zM216.3 492.18h8v9.05h-8zM225.94 492.18h8v9.05h-8zM235.58 492.18h8v9.05h-8zM245.22 492.18h8v9.05h-8zM254.86 492.18h8v9.05h-8zM274.14 492.18h8v9.05h-8zM283.78 492.18h8v9.05h-8zM293.42 492.18h8v9.05h-8zM303.06 492.18h8v9.05h-8zM312.7 492.18h8v9.05h-8zM322.34 492.18h8v9.05h-8zM331.98 492.18h8v9.05h-8zM341.62 492.18h8v9.05h-8zM351.26 492.18h8v9.05h-8zM360.9 492.18h8v9.05h-8zM370.54 492.18h8v9.05h-8zM380.18 492.18h8v9.05h-8zM389.82 492.18h8v9.05h-8zM399.46 492.18h8v9.05h-8zM409.1 492.18h8v9.05h-8zM418.74 492.18h8v9.05h-8zM428.38 492.18h8v9.05h-8zM438.02 492.18h8v9.05h-8zM447.66 492.18h8v9.05h-8zM457.3 492.18h8v9.05h-8zM466.94 492.18h8v9.05h-8zM476.58 492.18h8v9.05h-8zM486.22 492.18h6.78v9.05h-6.78zM119.9 503.3h8v9.05h-8zM129.54 503.3h8v9.05h-8zM139.18 503.3h8v9.05h-8zM148.82 503.3h8v9.05h-8zM158.46 503.3h8v9.05h-8zM168.1 503.3h8v9.05h-8zM177.74 503.3h8v9.05h-8zM187.38 503.3h8v9.05h-8zM197.02 503.3h8v9.05h-8zM206.66 503.3h8v9.05h-8zM216.3 503.3h8v9.05h-8zM225.94 503.3h8v9.05h-8zM235.58 503.3h8v9.05h-8zM245.22 503.3h8v9.05h-8zM254.86 503.3h8v9.05h-8zM264.5 503.3h8v9.05h-8zM274.14 503.3h8v9.05h-8zM283.78 503.3h8v9.05h-8zM293.42 503.3h8v9.05h-8zM303.06 503.3h8v9.05h-8zM322.34 503.3h8v9.05h-8zM331.98 503.3h8v9.05h-8zM341.62 503.3h8v9.05h-8zM351.26 503.3h8v9.05h-8zM360.9 503.3h8v9.05h-8zM370.54 503.3h8v9.05h-8zM380.18 503.3h8v9.05h-8zM389.82 503.3h8v9.05h-8zM399.46 503.3h8v9.05h-8zM409.1 503.3h8v9.05h-8zM418.74 503.3h8v9.05h-8zM428.38 503.3h8v9.05h-8zM438.02 503.3h8v9.05h-8zM447.66 503.3h8v9.05h-8zM457.3 503.3h8v9.05h-8zM466.94 503.3h8v9.05h-8zM476.58 503.3h8v9.05h-8zM486.22 503.3h6.78v9.05h-6.78zM119.9 514.42h8v9.05h-8zM129.54 514.42h8v9.05h-8zM139.18 514.42h8v9.05h-8zM148.82 514.42h8v9.05h-8zM158.46 514.42h8v9.05h-8zM168.1 514.42h8v9.05h-8zM177.74 514.42h8v9.05h-8zM187.38 514.42h8v9.05h-8zM197.02 514.42h8v9.05h-8zM206.66 514.42h8v9.05h-8zM216.3 514.42h8v9.05h-8zM225.94 514.42h8v9.05h-8zM235.58 514.42h8v9.05h-8zM245.22 514.42h8v9.05h-8zM254.86 514.42h8v9.05h-8zM264.5 514.42h8v9.05h-8zM274.14 514.42h8v9.05h-8zM283.78 514.42h8v9.05h-8zM293.42 514.42h8v9.05h-8zM303.06 514.42h8v9.05h-8zM322.34 514.42h8v9.05h-8zM331.98 514.42h8v9.05h-8zM341.62 514.42h8v9.05h-8zM351.26 514.42h8v9.05h-8zM360.9 514.42h8v9.05h-8zM370.54 514.42h8v9.05h-8zM380.18 514.42h8v9.05h-8zM389.82 514.42h8v9.05h-8zM399.46 514.42h8v9.05h-8zM409.1 514.42h8v9.05h-8zM418.74 514.42h8v9.05h-8zM428.38 514.42h8v9.05h-8zM438.02 514.42h8v9.05h-8zM447.66 514.42h8v9.05h-8zM457.3 514.42h8v9.05h-8zM466.94 514.42h8v9.05h-8zM476.58 514.42h8v9.05h-8zM486.22 514.42h6.78v9.05h-6.78zM119.9 525.54h8v9.05h-8zM129.54 525.54h8v9.05h-8zM139.18 525.54h8v9.05h-8zM148.82 525.54h8v9.05h-8zM158.46 525.54h8v9.05h-8zM168.1 525.54h8v9.05h-8zM177.74 525.54h8v9.05h-8zM187.38 525.54h8v9.05h-8zM197.02 525.54h8v9.05h-8zM206.66 525.54h8v9.05h-8zM216.3 525.54h8v9.05h-8zM225.94 525.54h8v9.05h-8zM235.58 525.54h8v9.05h-8zM245.22 525.54h8v9.05h-8zM254.86 525.54h8v9.05h-8zM264.5 525.54h8v9.05h-8zM274.14 525.54h8v9.05h-8zM283.78 525.54h8v9.05h-8zM293.42 525.54h8v9.05h-8zM303.06 525.54h8v9.05h-8zM312.7 525.54h8v9.05h-8zM322.34 525.54h8v9.05h-8zM341.62 525.54h8v9.05h-8zM351.26 525.54h8v9.05h-8zM360.9 525.54h8v9.05h-8zM370.54 525.54h8v9.05h-8zM380.18 525.54h8v9.05h-8zM389.82 525.54h8v9.05h-8zM399.46 525.54h8v9.05h-8zM409.1 525.54h8v9.05h-8zM418.74 525.54h8v9.05h-8zM428.38 525.54h8v9.05h-8zM438.02 525.54h8v9.05h-8zM447.66 525.54h8v9.05h-8zM457.3 525.54h8v9.05h-8zM466.94 525.54h8v9.05h-8zM476.58 525.54h8v9.05h-8zM486.22 525.54h6.78v9.05h-6.78zM119.9 536.66h8v9.05h-8zM129.54 536.66h8v9.05h-8zM139.18 536.66h8v9.05h-8zM148.82 536.66h8v9.05h-8zM158.46 536.66h8v9.05h-8zM168.1 536.66h8v9.05h-8zM177.74 536.66h8v9.05h-8zM187.38 536.66h8v9.05h-8zM197.02 536.66h8v9.05h-8zM206.66 536.66h8v9.05h-8zM216.3 536.66h8v9.05h-8zM225.94 536.66h8v9.05h-8zM235.58 536.66h8v9.05h-8zM245.22 536.66h8v9.05h-8zM254.86 536.66h8v9.05h-8zM264.5 536.66h8v9.05h-8zM274.14 536.66h8v9.05h-8zM283.78 536.66h8v9.05h-8zM293.42 536.66h8v9.05h-8zM303.06 536.66h8v9.05h-8zM312.7 536.66h8v9.05h-8zM322.34 536.66h8v9.05h-8zM331.98 536.66h8v9.05h-8zM351.26 536.66h8v9.05h-8zM360.9 536.66h8v9.05h-8zM370.54 536.66h8v9.05h-8zM380.18 536.66h8v9.05h-8zM389.82 536.66h8v9.05h-8zM399.46 536.66h8v9.05h-8zM409.1 536.66h8v9.05h-8zM418.74 536.66h8v9.05h-8zM428.38 536.66h8v9.05h-8zM438.02 536.66h8v9.05h-8zM447.66 536.66h8v9.05h-8zM457.3 536.66h8v9.05h-8zM466.94 536.66h8v9.05h-8zM476.58 536.66h8v9.05h-8zM486.22 536.66h6.78v9.05h-6.78zM119.9 547.78h8v9.05h-8zM129.54 547.78h8v9.05h-8zM139.18 547.78h8v9.05h-8zM148.82 547.78h8v9.05h-8zM158.46 547.78h8v9.05h-8zM168.1 547.78h8v9.05h-8zM177.74 547.78h8v9.05h-8zM187.38 547.78h8v9.05h-8zM197.02 547.78h8v9.05h-8zM206.66 547.78h8v9.05h-8zM216.3 547.78h8v9.05h-8zM225.94 547.78h8v9.05h-8zM235.58 547.78h8v9.05h-8zM245.22 547.78h8v9.05h-8zM254.86 547.78h8v9.05h-8zM264.5 547.78h8v9.05h-8zM274.14 547.78h8v9.05h-8zM283.78 547.78h8v9.05h-8zM293.42 547.78h8v9.05h-8zM303.06 547.78h8v9.05h-8zM312.7 547.78h8v9.05h-8zM322.34 547.78h8v9.05h-8zM331.98 547.78h8v9.05h-8zM341.62 547.78h8v9.05h-8zM351.26 547.78h8v9.05h-8zM360.9 547.78h8v9.05h-8zM370.54 547.78h8v9.05h-8zM380.18 547.78h8v9.05h-8zM389.82 547.78h8v9.05h-8zM399.46 547.78h8v9.05h-8zM409.1 547.78h8v9.05h-8zM428.38 547.78h8v9.05h-8zM438.02 547.78h8v9.05h-8zM447.66 547.78h8v9.05h-8zM457.3 547.78h8v9.05h-8zM466.94 547.78h8v9.05h-8zM476.58 547.78h8v9.05h-8zM486.22 547.78h6.78v9.05h-6.78zM119.9 558.9h8v9.05h-8zM129.54 558.9h8v9.05h-8zM139.18 558.9h8v9.05h-8zM148.82 558.9h8v9.05h-8zM158.46 558.9h8v9.05h-8zM168.1 558.9h8v9.05h-8zM177.74 558.9h8v9.05h-8zM187.38 558.9h8v9.05h-8zM197.02 558.9h8v9.05h-8zM206.66 558.9h8v9.05h-8zM216.3 558.9h8v9.05h-8zM225.94 558.9h8v9.05h-8zM235.58 558.9h8v9.05h-8zM245.22 558.9h8v9.05h-8zM254.86 558.9h8v9.05h-8zM264.5 558.9h8v9.05h-8zM274.14 558.9h8v9.05h-8zM283.78 558.9h8v9.05h-8zM293.42 558.9h8v9.05h-8zM303.06 558.9h8v9.05h-8zM312.7 558.9h8v9.05h-8zM322.34 558.9h8v9.05h-8zM331.98 558.9h8v9.05h-8zM341.62 558.9h8v9.05h-8zM351.26 558.9h8v9.05h-8zM360.9 558.9h8v9.05h-8zM370.54 558.9h8v9.05h-8zM380.18 558.9h8v9.05h-8zM389.82 558.9h8v9.05h-8zM399.46 558.9h8v9.05h-8zM409.1 558.9h8v9.05h-8zM418.74 558.9h8v9.05h-8zM428.38 558.9h8v9.05h-8zM438.02 558.9h8v9.05h-8zM447.66 558.9h8v9.05h-8zM457.3 558.9h8v9.05h-8zM476.58 558.9h8v9.05h-8zM486.22 558.9h6.78v9.05h-6.78zM119.9 570.02h8v9.05h-8zM129.54 570.02h8v9.05h-8zM139.18 570.02h8v9.05h-8zM148.82 570.02h8v9.05h-8zM158.46 570.02h8v9.05h-8zM168.1 570.02h8v9.05h-8zM177.74 570.02h8v9.05h-8zM187.38 570.02h8v9.05h-8zM197.02 570.02h8v9.05h-8zM206.66 570.02h8v9.05h-8zM216.3 570.02h8v9.05h-8zM225.94 570.02h8v9.05h-8zM235.58 570.02h8v9.05h-8zM245.22 570.02h8v9.05h-8zM254.86 570.02h8v9.05h-8zM264.5 570.02h8v9.05h-8zM274.14 570.02h8v9.05h-8zM283.78 570.02h8v9.05h-8zM293.42 570.02h8v9.05h-8zM303.06 570.02h8v9.05h-8zM312.7 570.02h8v9.05h-8zM322.34 570.02h8v9.05h-8zM331.98 570.02h8v9.05h-8zM341.62 570.02h8v9.05h-8zM351.26 570.02h8v9.05h-8zM360.9 570.02h8v9.05h-8zM370.54 570.02h8v9.05h-8zM380.18 570.02h8v9.05h-8zM389.82 570.02h8v9.05h-8zM399.46 570.02h8v9.05h-8zM409.1 570.02h8v9.05h-8zM418.74 570.02h8v9.05h-8zM428.38 570.02h8v9.05h-8zM438.02 570.02h8v9.05h-8zM447.66 570.02h8v9.05h-8zM457.3 570.02h8v9.05h-8zM466.94 570.02h8v9.05h-8zM486.22 570.02h6.78v9.05h-6.78z" fill="#D3D3D3"/>
<text x="110.0" y="14.8" font-size="12.75" text-anchor="end">Clinical Response</text>
<text x="110.0" y="37.6" font-size="12.75" text-anchor="end">Clinical Benefit</text>
<text x="110.0" y="57.8" font-size="12.75" text-anchor="end">WHO Classification</text>
<text x="110.0" y="82.3" font-size="12.75" text-anchor="end">Driver Subtype</text>
<text x="110.0" y="105.5" font-size="12.75" text-anchor="end" font-style="italic">HLA-24:02</text>
<text x="110.4" y="123.3" font-size="10" text-anchor="end" font-style="italic">TERT</text>
<text x="110.4" y="134.41" font-size="10" text-anchor="end" font-style="italic">NRAS</text>
<text x="110.4" y="145.52" font-size="10" text-anchor="end" font-style="italic">EP300</text>
<text x="110.4" y="156.63" font-size="10" text-anchor="end" font-style="italic">BRAF</text>
<text x="110.4" y="167.74" font-size="10" text-anchor="end" font-style="italic">CDKN2A</text>
<text x="110.4" y="178.85" font-size="10" text-anchor="end" font-style="italic">CCND1</text>
<text x="110.4" y="189.96" font-size="10" text-anchor="end" font-style="italic">KDR</text>
<text x="110.4" y="201.07" font-size="10" text-anchor="end" font-style="italic">ANK3</text>
<text x="110.4" y="212.18" font-size="10" text-anchor="end" font-style="italic">XIRP2</text>
<text x="110.4" y="223.29" font-size="10" text-anchor="end" font-style="italic">ADGRF5</text>
<text x="110.4" y="234.4" font-size="10" text-anchor="end" font-style="italic">CDK4</text>
<text x="110.4" y="245.51" font-size="10" text-anchor="end" font-style="italic">APC</text>
<text x="110.4" y="256.62" font-size="10" text-anchor="end" font-style="italic">STK19</text>
<text x="110.4" y="267.73" font-size="10" text-anchor="end" font-style="italic">SLC44A4</text>
<text x="110.4" y="278.84" font-size="10" text-anchor="end" font-style="italic">RAC1</text>
<text x="110.4" y="289.95" font-size="10" text-anchor="end" font-style="italic">SNX31</text>
<text x="110.4" y="301.06" font-size="10" text-anchor="end" font-style="italic">PTPRD</text>
<text x="110.4" y="312.17" font-size="10" text-anchor="end" font-style="italic">MXRA5</text>
<text x="110.4" y="323.28" font-size="10" text-anchor="end" font-style="italic">KRAS</text>
<text x="110.4" y="334.39" font-size="10" text-anchor="end" font-style="italic">MDM2</text>
<text x="110.4" y="345.5" font-size="10" text-anchor="end" font-style="italic">PTEN</text>
<text x="110.4" y="356.61" font-size="10" text-anchor="end" font-style="italic">PDGFRA</text>
<text x="110.4" y="367.72" font-size="10" text-anchor="end" font-style="italic">KIT</text>
<text x="110.4" y="378.83" font-size="10" text-anchor="end" font-style="italic">TP53</text>
<text x="110.4" y="389.94" font-size="10" text-anchor="end" font-style="italic">ARID2</text>
<text x="110.4" y="401.05" font-size="10" text-anchor="end" font-style="italic">PIK3CA</text>
<text x="110.4" y="412.16" font-size="10" text-anchor="end" font-style="italic">NOTCH2</text>
<text x="110.4" y="423.27" font-size="10" text-anchor="end" font-style="italic">NF1</text>
<text x="110.4" y="434.38" font-size="10" text-anchor="end" font-style="italic">MYOCD</text>
<text x="110.4" y="445.49" font-size="10" text-anchor="end" font-style="italic">SLC12A8</text>
<text x="110.4" y="456.6" font-size="10" text-anchor="end" font-style="italic">RBFOX1</text>
<text x="110.4" y="467.71" font-size="10" text-anchor="end" font-style="italic">CFAP221</text>
<text x="110.4" y="478.82" font-size="10" text-anchor="end" font-style="italic">EGFL6</text>
<text x="110.4" y="489.93" font-size="10" text-anchor="end" font-style="italic">LCTL</text>
<text x="110.4" y="501.04" font-size="10" text-anchor="end" font-style="italic">ZNF750</text>
<text x="110.4" y="512.15" font-size="10" text-anchor="end" font-style="italic">OR52N1</text>
<text x="110.4" y="523.26" font-size="10" text-anchor="end" font-style="italic">FRMD7</text>
<text x="110.4" y="534.37" font-size="10" text-anchor="end" font-style="italic">ACO1</text>
<text x="110.4" y="545.48" font-size="10" text-anchor="end" font-style="italic">OR4A16</text>
<text x="110.4" y="556.59" font-size="10" text-anchor="end" font-style="italic">ALDH1B1</text>
<text x="110.4" y="567.7" font-size="10" text-anchor="end" font-style="italic">HRAS</text>
<text x="110.4" y="578.81" font-size="10" text-anchor="end" font-style="italic">MITF</text>
<rect x="503.9" y="0.6" width="12.2" height="8" fill="#2F5597"/>
<text x="517.4" y="8.6" font-size="11.25">CR</text>
<rect x="537.2" y="0.6" width="12.2" height="8" fill="#00B0F0"/>
<text x="550.5" y="8.6" font-size="11.25">PR</text>
<rect x="570.8" y="0.6" width="12.2" height="8" fill="#00B050"/>
<text x="584.1" y="8.6" font-size="11.25">LS</text>
<rect x="503.9" y="11.8" width="12.2" height="8" fill="#FF6EC7"/>
<text x="517.4" y="19.8" font-size="11.25">SD</text>
<rect x="537.2" y="11.8" width="12.2" height="8" fill="#FF0000"/>
<text x="550.5" y="19.8" font-size="11.25">PD</text>
<rect x="503.9" y="23.5" width="12.2" height="8" fill="#008B00"/>
<text x="517.4" y="31.5" font-size="11.25">Clinically Benefited</text>
<rect x="503.9" y="33.7" width="12.2" height="8" fill="#FF0000"/>
<text x="517.4" y="41.7" font-size="11.25">Non-Benefited</text>
<rect x="503.9" y="46.3" width="12.2" height="8" fill="#5B8FF9"/>
<text x="518.1" y="54.3" font-size="11.25">Acral</text>
<rect x="554.7" y="46.3" width="12.2" height="8" fill="#0B9A5E"/>
<text x="570.3" y="54.3" font-size="11.25">Mucosal</text>
<rect x="620.3" y="46.3" width="12.2" height="8" fill="#5B4F9F"/>
<text x="633.8" y="54.3" font-size="11.25">High-CSD</text>
<rect x="503.9" y="56.7" width="12.2" height="8" fill="#F28C55"/>
<text x="518.1" y="64.7" font-size="11.25">Low-CSD</text>
<rect x="575.4" y="56.4" width="12.2" height="8.1" fill="#FFFFFF" stroke="#9a9a9a" stroke-width="0.8"/>
<text x="588.9" y="64.7" font-size="11.25">Others/Unknown</text>
<rect x="503.9" y="68.9" width="12.2" height="8" fill="#2F5597"/>
<text x="518.4" y="76.9" font-size="11.25">BRAF</text>
<rect x="553.6" y="68.9" width="12.2" height="8" fill="#AAD46C"/>
<text x="568.9" y="76.9" font-size="11.25">RAS</text>
<rect x="597.2" y="68.9" width="12.2" height="8" fill="#FF7F5B"/>
<text x="612.6" y="76.9" font-size="11.25">NF1</text>
<rect x="503.9" y="80.3" width="12.2" height="8" fill="#F0F000"/>
<text x="518.1" y="88.3" font-size="11.25">Triple WT</text>
<rect x="503.9" y="92.7" width="12.2" height="8" fill="#006666"/>
<text x="518.1" y="100.7" font-size="11.25">Homozygous</text>
<rect x="591.7" y="92.7" width="12.2" height="8" fill="#00C4BE"/>
<text x="606.1" y="100.7" font-size="11.25">Heterozygous</text>
<rect x="503.8" y="103.6" width="12.2" height="8.1" fill="#EEEEEE" stroke="#9a9a9a" stroke-width="0.8"/>
<text x="518.1" y="111.9" font-size="11.25">Non-Carrier</text>
<polygon points="504.9,138 514.9,138 504.9,147.6" fill="#000"/>
<text x="518.3" y="146.7" font-size="11.25">Truncation</text>
<polygon points="504.9,158.5 514.9,158.5 504.9,168.1" fill="#2CA02C"/>
<text x="518.3" y="167.2" font-size="11.25">Missense SNV</text>
<polygon points="514.9,179 514.9,188.6 504.9,188.6" fill="#ADD8E6"/>
<text x="518.3" y="187.7" font-size="11.25">LOH</text>
<rect x="504.9" y="199.4" width="10" height="9.6" fill="#D53A4E"/>
<text x="518.3" y="208.1" font-size="11.25">Amplification</text>
<rect x="504.9" y="220" width="10" height="9.6" fill="#0000FF"/>
<text x="518.3" y="228.7" font-size="11.25">Homozygous Deletion</text>
</svg>
</body></html>
